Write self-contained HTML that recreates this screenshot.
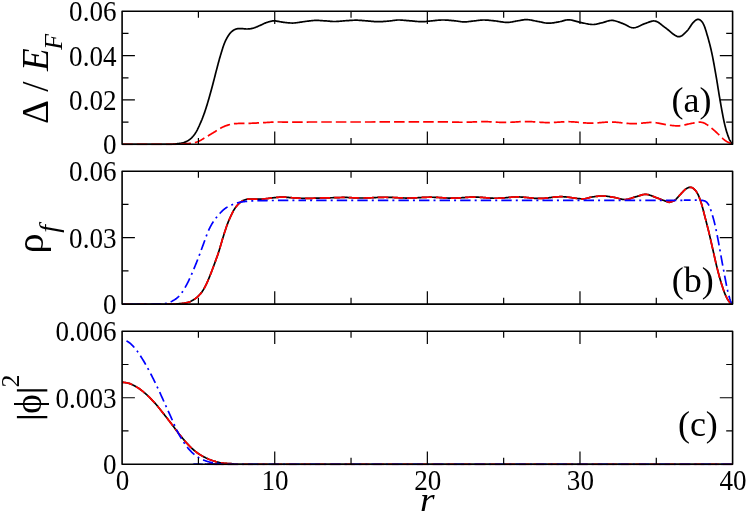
<!DOCTYPE html>
<html><head><meta charset="utf-8"><style>
html,body{margin:0;padding:0;background:#fff;}
svg{display:block;font-family:"Liberation Serif",serif;will-change:transform;transform:translateZ(0);}
</style></head><body>
<svg width="747" height="514" viewBox="0 0 747 514">
<rect width="747" height="514" fill="#fff"/>
<clipPath id="clipa"><rect x="121.1" y="10.25" width="612.5" height="135.05"/></clipPath>
<g clip-path="url(#clipa)" fill="none" stroke-width="1.7" stroke-linejoin="round">
<path d="M122.20 144.45 L124.12 144.45 L126.63 144.45 L129.64 144.45 L133.03 144.45 L136.68 144.46 L140.47 144.46 L144.31 144.46 L148.06 144.46 L151.62 144.46 L154.87 144.46 L157.70 144.45 L160.00 144.45 L161.82 144.45 L163.33 144.44 L164.57 144.44 L165.58 144.43 L166.40 144.43 L167.06 144.42 L167.60 144.41 L168.07 144.41 L168.51 144.39 L168.95 144.38 L169.43 144.37 L170.00 144.35 L170.58 144.33 L171.07 144.32 L171.50 144.30 L171.89 144.29 L172.23 144.27 L172.56 144.25 L172.88 144.23 L173.20 144.20 L173.56 144.16 L173.95 144.12 L174.39 144.06 L174.90 144.00 L175.48 143.93 L176.11 143.86 L176.78 143.79 L177.48 143.71 L178.20 143.63 L178.94 143.53 L179.69 143.43 L180.43 143.32 L181.16 143.19 L181.88 143.04 L182.56 142.88 L183.20 142.70 L183.81 142.51 L184.41 142.30 L184.99 142.09 L185.56 141.87 L186.11 141.63 L186.66 141.38 L187.19 141.11 L187.72 140.82 L188.25 140.50 L188.77 140.16 L189.28 139.80 L189.80 139.40 L190.31 138.98 L190.82 138.53 L191.33 138.06 L191.83 137.57 L192.32 137.05 L192.81 136.51 L193.29 135.95 L193.76 135.37 L194.23 134.76 L194.69 134.13 L195.15 133.48 L195.60 132.80 L196.04 132.09 L196.48 131.35 L196.90 130.58 L197.33 129.78 L197.74 128.95 L198.15 128.11 L198.55 127.26 L198.95 126.39 L199.35 125.52 L199.73 124.64 L200.12 123.77 L200.50 122.90 L200.87 122.04 L201.24 121.18 L201.60 120.32 L201.96 119.46 L202.30 118.59 L202.65 117.71 L202.99 116.82 L203.33 115.91 L203.67 114.99 L204.01 114.05 L204.36 113.09 L204.70 112.10 L205.05 111.09 L205.39 110.06 L205.73 109.01 L206.07 107.94 L206.42 106.86 L206.76 105.76 L207.10 104.64 L207.44 103.51 L207.78 102.38 L208.12 101.23 L208.46 100.07 L208.80 98.90 L209.14 97.72 L209.49 96.51 L209.83 95.28 L210.18 94.04 L210.53 92.79 L210.88 91.53 L211.22 90.26 L211.56 88.99 L211.90 87.73 L212.24 86.47 L212.57 85.23 L212.90 84.00 L213.22 82.78 L213.54 81.55 L213.86 80.33 L214.17 79.11 L214.48 77.89 L214.79 76.67 L215.09 75.47 L215.40 74.27 L215.70 73.08 L216.00 71.91 L216.30 70.75 L216.60 69.60 L216.90 68.47 L217.19 67.36 L217.47 66.27 L217.76 65.19 L218.04 64.11 L218.32 63.05 L218.61 61.99 L218.90 60.94 L219.19 59.88 L219.48 58.83 L219.79 57.77 L220.10 56.70 L220.42 55.62 L220.75 54.51 L221.08 53.39 L221.42 52.26 L221.77 51.13 L222.11 50.01 L222.46 48.90 L222.81 47.82 L223.16 46.77 L223.51 45.77 L223.86 44.81 L224.20 43.90 L224.54 43.04 L224.88 42.23 L225.22 41.44 L225.57 40.70 L225.91 39.98 L226.25 39.29 L226.59 38.64 L226.93 38.00 L227.28 37.40 L227.62 36.81 L227.96 36.25 L228.30 35.70 L228.64 35.18 L228.98 34.69 L229.31 34.22 L229.65 33.78 L229.98 33.37 L230.32 32.98 L230.66 32.60 L231.00 32.25 L231.34 31.92 L231.69 31.60 L232.04 31.29 L232.40 31.00 L232.77 30.72 L233.14 30.47 L233.51 30.23 L233.89 30.01 L234.28 29.80 L234.66 29.62 L235.05 29.45 L235.44 29.29 L235.83 29.15 L236.22 29.02 L236.61 28.91 L237.00 28.80 L237.38 28.71 L237.76 28.64 L238.14 28.60 L238.51 28.56 L238.89 28.54 L239.27 28.54 L239.65 28.54 L240.04 28.55 L240.44 28.56 L240.85 28.58 L241.27 28.59 L241.70 28.60 L242.15 28.62 L242.62 28.65 L243.09 28.69 L243.58 28.74 L244.08 28.79 L244.58 28.84 L245.09 28.90 L245.60 28.94 L246.10 28.98 L246.61 29.00 L247.11 29.01 L247.60 29.00 L248.09 28.97 L248.57 28.94 L249.06 28.90 L249.54 28.85 L250.02 28.79 L250.51 28.72 L250.99 28.64 L251.47 28.55 L251.95 28.45 L252.43 28.35 L252.92 28.23 L253.40 28.10 L253.88 27.96 L254.37 27.80 L254.85 27.63 L255.33 27.45 L255.81 27.26 L256.29 27.06 L256.78 26.86 L257.26 26.65 L257.74 26.44 L258.23 26.22 L258.71 26.01 L259.20 25.80 L259.69 25.59 L260.18 25.36 L260.67 25.13 L261.16 24.90 L261.66 24.66 L262.15 24.42 L262.64 24.18 L263.14 23.95 L263.63 23.72 L264.12 23.50 L264.61 23.29 L265.10 23.10 L265.59 22.91 L266.09 22.73 L266.60 22.55 L267.10 22.38 L267.61 22.22 L268.11 22.06 L268.61 21.91 L269.10 21.76 L269.57 21.63 L270.03 21.51 L270.48 21.40 L270.90 21.30 L271.28 21.21 L271.62 21.13 L271.92 21.06 L272.20 20.99 L272.46 20.94 L272.73 20.89 L273.00 20.86 L273.30 20.84 L273.64 20.83 L274.03 20.84 L274.48 20.86 L275.00 20.90 L275.60 20.96 L276.26 21.05 L276.98 21.16 L277.74 21.29 L278.55 21.44 L279.38 21.59 L280.22 21.74 L281.08 21.90 L281.93 22.04 L282.78 22.18 L283.60 22.30 L284.40 22.40 L285.17 22.49 L285.93 22.58 L286.69 22.66 L287.43 22.74 L288.18 22.82 L288.93 22.89 L289.69 22.94 L290.46 22.99 L291.24 23.02 L292.04 23.03 L292.86 23.03 L293.70 23.00 L294.57 22.95 L295.48 22.87 L296.41 22.76 L297.36 22.64 L298.32 22.50 L299.29 22.36 L300.26 22.20 L301.23 22.05 L302.20 21.90 L303.15 21.75 L304.09 21.62 L305.00 21.50 L305.89 21.39 L306.77 21.27 L307.65 21.16 L308.51 21.04 L309.36 20.93 L310.21 20.82 L311.06 20.72 L311.90 20.63 L312.75 20.55 L313.59 20.49 L314.44 20.43 L315.30 20.40 L316.16 20.39 L317.03 20.39 L317.90 20.41 L318.77 20.44 L319.64 20.49 L320.51 20.54 L321.37 20.60 L322.23 20.67 L323.09 20.73 L323.94 20.79 L324.77 20.85 L325.60 20.90 L326.41 20.95 L327.20 21.01 L327.97 21.08 L328.73 21.14 L329.49 21.21 L330.24 21.28 L331.00 21.34 L331.77 21.40 L332.54 21.45 L333.34 21.48 L334.16 21.50 L335.00 21.50 L335.87 21.48 L336.77 21.44 L337.69 21.39 L338.63 21.33 L339.58 21.25 L340.54 21.17 L341.51 21.08 L342.47 21.00 L343.42 20.91 L344.36 20.83 L345.29 20.76 L346.20 20.70 L347.09 20.64 L347.97 20.59 L348.84 20.53 L349.70 20.47 L350.56 20.41 L351.41 20.36 L352.25 20.31 L353.10 20.27 L353.95 20.23 L354.79 20.21 L355.64 20.20 L356.50 20.20 L357.36 20.22 L358.21 20.25 L359.05 20.29 L359.90 20.34 L360.75 20.40 L361.59 20.47 L362.44 20.54 L363.30 20.61 L364.16 20.69 L365.03 20.76 L365.91 20.83 L366.80 20.90 L367.70 20.97 L368.61 21.04 L369.53 21.13 L370.46 21.21 L371.40 21.30 L372.34 21.39 L373.28 21.47 L374.23 21.54 L375.17 21.60 L376.12 21.65 L377.06 21.69 L378.00 21.70 L378.95 21.70 L379.90 21.67 L380.87 21.64 L381.84 21.59 L382.81 21.53 L383.78 21.46 L384.74 21.39 L385.69 21.31 L386.63 21.23 L387.54 21.15 L388.44 21.07 L389.30 21.00 L390.13 20.92 L390.93 20.83 L391.70 20.73 L392.45 20.63 L393.19 20.52 L393.91 20.41 L394.63 20.31 L395.36 20.22 L396.09 20.14 L396.84 20.07 L397.61 20.02 L398.40 20.00 L399.21 20.00 L400.01 20.01 L400.82 20.05 L401.64 20.10 L402.46 20.16 L403.29 20.23 L404.14 20.30 L405.01 20.38 L405.89 20.46 L406.80 20.55 L407.74 20.63 L408.70 20.70 L409.71 20.78 L410.78 20.87 L411.89 20.97 L413.03 21.08 L414.19 21.19 L415.36 21.29 L416.53 21.40 L417.68 21.49 L418.81 21.57 L419.89 21.63 L420.93 21.68 L421.90 21.70 L422.81 21.70 L423.65 21.67 L424.45 21.63 L425.21 21.57 L425.95 21.50 L426.67 21.42 L427.38 21.33 L428.10 21.24 L428.83 21.15 L429.58 21.06 L430.37 20.98 L431.20 20.90 L432.07 20.82 L432.97 20.74 L433.89 20.64 L434.82 20.55 L435.77 20.45 L436.73 20.36 L437.70 20.27 L438.67 20.19 L439.64 20.11 L440.60 20.06 L441.56 20.02 L442.50 20.00 L443.44 20.00 L444.38 20.02 L445.33 20.05 L446.27 20.10 L447.22 20.15 L448.16 20.22 L449.10 20.29 L450.04 20.37 L450.97 20.45 L451.89 20.54 L452.80 20.62 L453.70 20.70 L454.59 20.79 L455.47 20.90 L456.34 21.02 L457.20 21.14 L458.06 21.28 L458.91 21.41 L459.75 21.53 L460.60 21.64 L461.45 21.74 L462.29 21.82 L463.14 21.88 L464.00 21.90 L464.86 21.89 L465.73 21.86 L466.60 21.80 L467.47 21.73 L468.34 21.63 L469.21 21.53 L470.07 21.42 L470.93 21.31 L471.79 21.19 L472.64 21.09 L473.47 20.99 L474.30 20.90 L475.11 20.82 L475.90 20.72 L476.67 20.63 L477.43 20.53 L478.18 20.43 L478.94 20.33 L479.69 20.24 L480.46 20.16 L481.24 20.10 L482.03 20.04 L482.85 20.01 L483.70 20.00 L484.57 20.01 L485.46 20.04 L486.37 20.08 L487.30 20.14 L488.23 20.22 L489.18 20.30 L490.14 20.39 L491.10 20.49 L492.07 20.59 L493.05 20.69 L494.02 20.80 L495.00 20.90 L495.99 21.01 L496.99 21.15 L498.01 21.30 L499.04 21.47 L500.07 21.63 L501.11 21.80 L502.14 21.96 L503.16 22.10 L504.18 22.22 L505.17 22.32 L506.15 22.38 L507.10 22.40 L508.03 22.38 L508.94 22.32 L509.84 22.23 L510.73 22.11 L511.60 21.98 L512.47 21.82 L513.32 21.66 L514.17 21.50 L515.01 21.33 L515.84 21.17 L516.67 21.03 L517.50 20.90 L518.31 20.77 L519.10 20.63 L519.88 20.49 L520.64 20.33 L521.40 20.18 L522.15 20.04 L522.91 19.90 L523.67 19.79 L524.45 19.70 L525.24 19.63 L526.06 19.60 L526.90 19.60 L527.77 19.65 L528.67 19.73 L529.59 19.85 L530.53 20.00 L531.48 20.17 L532.44 20.36 L533.41 20.56 L534.37 20.76 L535.32 20.96 L536.26 21.16 L537.19 21.34 L538.10 21.50 L538.99 21.66 L539.87 21.83 L540.74 22.01 L541.60 22.19 L542.46 22.37 L543.31 22.55 L544.15 22.71 L545.00 22.86 L545.85 22.99 L546.69 23.09 L547.54 23.16 L548.40 23.20 L549.26 23.20 L550.12 23.17 L550.98 23.10 L551.83 23.02 L552.69 22.91 L553.55 22.79 L554.41 22.65 L555.27 22.50 L556.13 22.35 L556.98 22.20 L557.84 22.05 L558.70 21.90 L559.56 21.74 L560.41 21.54 L561.25 21.32 L562.10 21.09 L562.94 20.84 L563.79 20.61 L564.64 20.38 L565.49 20.18 L566.35 20.01 L567.23 19.89 L568.11 19.81 L569.00 19.80 L569.90 19.85 L570.82 19.97 L571.73 20.13 L572.66 20.34 L573.59 20.58 L574.53 20.84 L575.48 21.11 L576.43 21.40 L577.39 21.68 L578.35 21.94 L579.32 22.19 L580.30 22.40 L581.29 22.60 L582.31 22.82 L583.35 23.05 L584.41 23.28 L585.47 23.50 L586.52 23.72 L587.58 23.92 L588.61 24.10 L589.63 24.25 L590.62 24.38 L591.58 24.46 L592.50 24.50 L593.37 24.49 L594.21 24.44 L595.01 24.36 L595.78 24.24 L596.53 24.10 L597.27 23.93 L598.00 23.75 L598.73 23.56 L599.47 23.36 L600.23 23.17 L601.00 22.98 L601.80 22.80 L602.62 22.61 L603.46 22.38 L604.30 22.12 L605.16 21.85 L606.02 21.58 L606.89 21.31 L607.76 21.05 L608.63 20.83 L609.50 20.64 L610.37 20.50 L611.24 20.41 L612.10 20.40 L612.96 20.46 L613.81 20.57 L614.66 20.74 L615.50 20.95 L616.35 21.20 L617.20 21.47 L618.05 21.78 L618.91 22.10 L619.77 22.42 L620.64 22.76 L621.51 23.08 L622.40 23.40 L623.29 23.75 L624.19 24.15 L625.10 24.61 L626.01 25.09 L626.93 25.58 L627.85 26.06 L628.78 26.52 L629.71 26.93 L630.65 27.29 L631.59 27.56 L632.54 27.74 L633.50 27.80 L634.47 27.73 L635.46 27.55 L636.47 27.27 L637.48 26.91 L638.50 26.48 L639.53 26.02 L640.54 25.53 L641.55 25.04 L642.55 24.56 L643.52 24.11 L644.48 23.72 L645.40 23.40 L646.30 23.11 L647.17 22.79 L648.02 22.47 L648.85 22.15 L649.67 21.85 L650.47 21.57 L651.28 21.33 L652.07 21.14 L652.87 21.01 L653.67 20.95 L654.48 20.98 L655.30 21.10 L656.12 21.33 L656.92 21.65 L657.71 22.05 L658.50 22.52 L659.28 23.06 L660.07 23.64 L660.88 24.27 L661.69 24.92 L662.53 25.59 L663.39 26.27 L664.28 26.94 L665.20 27.60 L666.17 28.31 L667.20 29.12 L668.28 30.00 L669.38 30.93 L670.51 31.88 L671.64 32.82 L672.76 33.72 L673.87 34.54 L674.95 35.28 L675.99 35.88 L676.98 36.33 L677.90 36.60 L678.76 36.69 L679.58 36.63 L680.36 36.44 L681.10 36.13 L681.82 35.73 L682.51 35.24 L683.18 34.70 L683.83 34.10 L684.48 33.48 L685.12 32.84 L685.76 32.21 L686.40 31.60 L687.04 30.96 L687.68 30.22 L688.30 29.43 L688.91 28.58 L689.52 27.71 L690.11 26.82 L690.69 25.94 L691.26 25.09 L691.82 24.28 L692.36 23.53 L692.89 22.86 L693.40 22.30 L693.89 21.81 L694.36 21.36 L694.82 20.95 L695.25 20.59 L695.67 20.27 L696.09 19.99 L696.49 19.77 L696.89 19.59 L697.29 19.46 L697.69 19.39 L698.09 19.37 L698.50 19.40 L698.91 19.49 L699.32 19.62 L699.74 19.80 L700.14 20.03 L700.55 20.32 L700.96 20.65 L701.36 21.04 L701.76 21.48 L702.15 21.97 L702.54 22.52 L702.92 23.13 L703.30 23.80 L703.67 24.53 L704.03 25.34 L704.39 26.21 L704.74 27.14 L705.09 28.13 L705.43 29.17 L705.77 30.25 L706.11 31.37 L706.46 32.52 L706.80 33.69 L707.15 34.89 L707.50 36.10 L707.86 37.33 L708.21 38.58 L708.57 39.87 L708.93 41.18 L709.29 42.53 L709.65 43.91 L710.01 45.32 L710.37 46.77 L710.73 48.27 L711.09 49.80 L711.44 51.38 L711.80 53.00 L712.15 54.67 L712.51 56.40 L712.86 58.18 L713.21 60.01 L713.56 61.87 L713.91 63.77 L714.26 65.70 L714.60 67.65 L714.95 69.62 L715.30 71.61 L715.65 73.60 L716.00 75.60 L716.35 77.63 L716.70 79.70 L717.05 81.82 L717.40 83.96 L717.74 86.13 L718.09 88.30 L718.44 90.47 L718.79 92.64 L719.14 94.78 L719.49 96.90 L719.85 98.97 L720.20 101.00 L720.56 103.01 L720.91 105.03 L721.27 107.05 L721.63 109.06 L721.99 111.05 L722.35 113.01 L722.71 114.93 L723.07 116.80 L723.43 118.61 L723.79 120.36 L724.14 122.02 L724.50 123.60 L724.85 125.10 L725.21 126.53 L725.56 127.89 L725.92 129.20 L726.27 130.45 L726.62 131.64 L726.98 132.78 L727.33 133.86 L727.67 134.89 L728.02 135.87 L728.36 136.81 L728.70 137.70 L729.05 138.54 L729.41 139.33 L729.79 140.06 L730.17 140.74 L730.54 141.38 L730.91 141.96 L731.27 142.49 L731.60 142.97 L731.91 143.41 L732.18 143.80 L732.41 144.15 L732.60 144.45" stroke="#000"/>
<path d="M122.20 144.45 L124.37 144.45 L127.24 144.45 L130.66 144.45 L134.51 144.45 L138.67 144.46 L142.98 144.46 L147.33 144.46 L151.59 144.46 L155.61 144.46 L159.28 144.46 L162.45 144.45 L165.00 144.45 L166.96 144.45 L168.50 144.45 L169.67 144.45 L170.55 144.46 L171.20 144.46 L171.69 144.46 L172.09 144.46 L172.45 144.45 L172.84 144.44 L173.34 144.42 L174.00 144.39 L174.90 144.35 L175.99 144.30 L177.17 144.25 L178.43 144.19 L179.74 144.13 L181.09 144.06 L182.45 143.99 L183.81 143.91 L185.14 143.82 L186.42 143.72 L187.64 143.62 L188.77 143.52 L189.80 143.40 L190.72 143.28 L191.57 143.17 L192.34 143.06 L193.06 142.94 L193.73 142.81 L194.37 142.68 L194.98 142.53 L195.59 142.37 L196.19 142.19 L196.80 141.98 L197.43 141.76 L198.10 141.50 L198.79 141.21 L199.47 140.89 L200.15 140.55 L200.84 140.18 L201.52 139.79 L202.20 139.39 L202.88 138.98 L203.56 138.56 L204.25 138.14 L204.93 137.72 L205.61 137.31 L206.30 136.90 L206.99 136.50 L207.68 136.09 L208.37 135.68 L209.06 135.26 L209.75 134.84 L210.44 134.42 L211.14 134.00 L211.83 133.57 L212.52 133.15 L213.22 132.73 L213.91 132.31 L214.60 131.90 L215.29 131.48 L215.98 131.05 L216.68 130.62 L217.37 130.18 L218.06 129.74 L218.76 129.31 L219.45 128.89 L220.14 128.47 L220.83 128.08 L221.52 127.69 L222.21 127.33 L222.90 127.00 L223.59 126.69 L224.29 126.39 L224.99 126.10 L225.70 125.83 L226.40 125.58 L227.11 125.34 L227.80 125.11 L228.49 124.90 L229.16 124.70 L229.83 124.52 L230.47 124.35 L231.10 124.20 L231.69 124.07 L232.22 123.96 L232.72 123.87 L233.20 123.79 L233.66 123.73 L234.12 123.69 L234.61 123.65 L235.11 123.62 L235.67 123.59 L236.27 123.56 L236.95 123.53 L237.70 123.50 L238.54 123.47 L239.44 123.44 L240.40 123.43 L241.40 123.41 L242.45 123.41 L243.54 123.40 L244.65 123.39 L245.77 123.39 L246.91 123.37 L248.05 123.36 L249.18 123.33 L250.30 123.30 L251.42 123.26 L252.57 123.21 L253.75 123.16 L254.93 123.10 L256.13 123.04 L257.33 122.97 L258.53 122.91 L259.72 122.84 L260.90 122.78 L262.06 122.72 L263.20 122.66 L264.30 122.60 L265.36 122.54 L266.38 122.48 L267.37 122.42 L268.33 122.36 L269.28 122.30 L270.22 122.24 L271.18 122.19 L272.15 122.14 L273.15 122.09 L274.18 122.05 L275.26 122.02 L276.40 122.00 L277.59 121.99 L278.82 121.99 L280.08 122.00 L281.37 122.02 L282.68 122.05 L284.02 122.08 L285.39 122.10 L286.77 122.13 L288.16 122.16 L289.57 122.18 L290.98 122.19 L292.40 122.20 L293.83 122.20 L295.28 122.19 L296.74 122.17 L298.23 122.16 L299.72 122.13 L301.23 122.11 L302.75 122.09 L304.29 122.07 L305.83 122.05 L307.38 122.03 L308.94 122.01 L310.50 122.00 L311.92 121.99 L313.08 121.99 L314.09 121.99 L315.03 121.99 L315.97 121.99 L317.01 121.99 L318.22 121.99 L319.71 122.00 L321.54 122.00 L323.81 122.00 L326.60 122.00 L330.00 122.00 L334.16 122.00 L339.09 122.00 L344.65 121.99 L350.70 121.99 L357.11 121.99 L363.72 121.98 L370.40 121.98 L377.02 121.97 L383.43 121.97 L389.48 121.96 L395.06 121.96 L400.00 121.95 L404.50 121.94 L408.81 121.93 L412.93 121.92 L416.85 121.91 L420.57 121.89 L424.06 121.88 L427.33 121.87 L430.37 121.85 L433.16 121.84 L435.71 121.83 L437.99 121.83 L440.00 121.82 L441.64 121.82 L442.86 121.81 L443.71 121.81 L444.26 121.81 L444.56 121.82 L444.69 121.82 L444.69 121.82 L444.63 121.83 L444.57 121.83 L444.57 121.84 L444.69 121.84 L445.00 121.85 L445.42 121.86 L445.83 121.86 L446.25 121.87 L446.67 121.88 L447.08 121.89 L447.50 121.90 L447.92 121.91 L448.33 121.92 L448.75 121.94 L449.17 121.95 L449.58 121.96 L450.00 121.97 L450.42 121.98 L450.83 121.99 L451.25 122.01 L451.67 122.02 L452.08 122.04 L452.50 122.05 L452.92 122.06 L453.33 122.08 L453.75 122.09 L454.17 122.11 L454.58 122.12 L455.00 122.13 L455.42 122.14 L455.83 122.15 L456.25 122.16 L456.67 122.17 L457.08 122.18 L457.50 122.19 L457.92 122.20 L458.33 122.21 L458.75 122.22 L459.17 122.23 L459.58 122.23 L460.00 122.24 L460.42 122.24 L460.83 122.25 L461.25 122.25 L461.67 122.25 L462.08 122.25 L462.50 122.26 L462.92 122.26 L463.33 122.25 L463.75 122.25 L464.17 122.25 L464.58 122.25 L465.00 122.24 L465.42 122.23 L465.83 122.23 L466.25 122.22 L466.67 122.21 L467.08 122.20 L467.50 122.18 L467.92 122.17 L468.33 122.16 L468.75 122.14 L469.17 122.13 L469.58 122.11 L470.00 122.10 L470.42 122.08 L470.83 122.07 L471.25 122.05 L471.67 122.03 L472.08 122.01 L472.50 121.99 L472.92 121.97 L473.33 121.95 L473.75 121.93 L474.17 121.92 L474.58 121.90 L475.00 121.88 L475.42 121.86 L475.83 121.84 L476.25 121.83 L476.67 121.81 L477.08 121.79 L477.50 121.77 L477.92 121.76 L478.33 121.74 L478.75 121.73 L479.17 121.71 L479.58 121.70 L480.00 121.69 L480.42 121.68 L480.83 121.67 L481.25 121.66 L481.67 121.66 L482.08 121.65 L482.50 121.65 L482.92 121.65 L483.33 121.64 L483.75 121.64 L484.17 121.64 L484.58 121.65 L485.00 121.65 L485.42 121.66 L485.83 121.66 L486.25 121.67 L486.67 121.68 L487.08 121.69 L487.50 121.71 L487.92 121.72 L488.33 121.73 L488.75 121.75 L489.17 121.77 L489.58 121.78 L490.00 121.80 L490.42 121.82 L490.83 121.84 L491.25 121.86 L491.67 121.88 L492.08 121.91 L492.50 121.93 L492.92 121.95 L493.33 121.98 L493.75 122.00 L494.17 122.02 L494.58 122.05 L495.00 122.07 L495.42 122.09 L495.83 122.11 L496.25 122.14 L496.67 122.16 L497.08 122.18 L497.50 122.21 L497.92 122.23 L498.33 122.25 L498.75 122.27 L499.17 122.29 L499.58 122.30 L500.00 122.32 L500.42 122.33 L500.83 122.35 L501.25 122.36 L501.67 122.37 L502.08 122.38 L502.50 122.39 L502.92 122.40 L503.33 122.40 L503.75 122.41 L504.17 122.41 L504.58 122.41 L505.00 122.41 L505.42 122.41 L505.83 122.40 L506.25 122.40 L506.67 122.39 L507.08 122.38 L507.50 122.37 L507.92 122.36 L508.33 122.35 L508.75 122.34 L509.17 122.32 L509.58 122.31 L510.00 122.29 L510.42 122.27 L510.83 122.25 L511.25 122.23 L511.67 122.21 L512.08 122.19 L512.50 122.16 L512.92 122.14 L513.33 122.11 L513.75 122.09 L514.17 122.06 L514.58 122.03 L515.00 122.01 L515.42 121.98 L515.83 121.96 L516.25 121.93 L516.67 121.90 L517.08 121.88 L517.50 121.85 L517.92 121.82 L518.33 121.79 L518.75 121.77 L519.17 121.74 L519.58 121.72 L520.00 121.70 L520.42 121.68 L520.83 121.66 L521.25 121.64 L521.67 121.63 L522.08 121.61 L522.50 121.60 L522.92 121.58 L523.33 121.57 L523.75 121.56 L524.17 121.55 L524.58 121.54 L525.00 121.54 L525.42 121.54 L525.83 121.54 L526.25 121.54 L526.67 121.54 L527.08 121.54 L527.50 121.55 L527.92 121.55 L528.33 121.56 L528.75 121.57 L529.17 121.58 L529.58 121.60 L530.00 121.61 L530.42 121.63 L530.83 121.64 L531.25 121.67 L531.67 121.69 L532.08 121.71 L532.50 121.74 L532.92 121.76 L533.33 121.79 L533.75 121.82 L534.17 121.85 L534.58 121.87 L535.00 121.90 L535.42 121.93 L535.83 121.96 L536.25 121.98 L536.67 122.01 L537.08 122.04 L537.50 122.08 L537.92 122.11 L538.33 122.14 L538.75 122.17 L539.17 122.19 L539.58 122.22 L540.00 122.25 L540.42 122.28 L540.83 122.30 L541.25 122.33 L541.67 122.36 L542.08 122.39 L542.50 122.41 L542.92 122.44 L543.33 122.46 L543.75 122.49 L544.17 122.51 L544.58 122.52 L545.00 122.54 L545.42 122.55 L545.83 122.56 L546.25 122.57 L546.67 122.58 L547.08 122.59 L547.50 122.59 L547.92 122.59 L548.33 122.59 L548.75 122.59 L549.17 122.59 L549.58 122.59 L550.00 122.58 L550.42 122.57 L550.83 122.56 L551.25 122.55 L551.67 122.53 L552.08 122.52 L552.50 122.50 L552.92 122.48 L553.33 122.46 L553.75 122.44 L554.17 122.42 L554.58 122.39 L555.00 122.37 L555.42 122.35 L555.83 122.32 L556.25 122.29 L556.67 122.26 L557.08 122.23 L557.50 122.20 L557.92 122.17 L558.33 122.14 L558.75 122.11 L559.17 122.08 L559.58 122.06 L560.00 122.03 L560.42 122.00 L560.83 121.98 L561.25 121.95 L561.67 121.93 L562.08 121.90 L562.50 121.88 L562.92 121.85 L563.33 121.83 L563.75 121.81 L564.17 121.79 L564.58 121.77 L565.00 121.76 L565.42 121.75 L565.83 121.74 L566.25 121.73 L566.67 121.72 L567.08 121.72 L567.50 121.72 L567.92 121.72 L568.33 121.72 L568.75 121.72 L569.17 121.72 L569.58 121.73 L570.00 121.74 L570.42 121.75 L570.83 121.77 L571.25 121.78 L571.67 121.80 L572.08 121.82 L572.50 121.84 L572.92 121.87 L573.33 121.90 L573.75 121.92 L574.17 121.95 L574.58 121.98 L575.00 122.01 L575.42 122.04 L575.83 122.08 L576.25 122.11 L576.67 122.15 L577.08 122.19 L577.50 122.23 L577.92 122.27 L578.33 122.31 L578.75 122.35 L579.17 122.39 L579.58 122.43 L580.00 122.47 L580.42 122.51 L580.83 122.55 L581.25 122.59 L581.67 122.63 L582.08 122.67 L582.50 122.71 L582.92 122.74 L583.33 122.78 L583.75 122.82 L584.17 122.85 L584.58 122.88 L585.00 122.91 L585.42 122.94 L585.83 122.96 L586.25 122.99 L586.67 123.01 L587.08 123.03 L587.50 123.05 L587.92 123.07 L588.33 123.08 L588.75 123.10 L589.17 123.11 L589.58 123.11 L590.00 123.12 L590.42 123.12 L590.83 123.12 L591.25 123.12 L591.67 123.12 L592.08 123.11 L592.50 123.10 L592.92 123.09 L593.33 123.08 L593.75 123.06 L594.17 123.05 L594.58 123.03 L595.00 123.01 L595.42 122.99 L595.83 122.97 L596.25 122.94 L596.67 122.91 L597.08 122.88 L597.50 122.85 L597.92 122.82 L598.33 122.78 L598.75 122.75 L599.17 122.72 L599.58 122.68 L600.00 122.65 L600.42 122.62 L600.83 122.58 L601.25 122.55 L601.67 122.51 L602.08 122.47 L602.50 122.44 L602.92 122.40 L603.33 122.36 L603.75 122.33 L604.17 122.30 L604.58 122.27 L605.00 122.24 L605.42 122.21 L605.83 122.19 L606.25 122.17 L606.67 122.15 L607.08 122.13 L607.50 122.11 L607.92 122.09 L608.33 122.07 L608.75 122.06 L609.17 122.05 L609.58 122.04 L610.00 122.04 L610.42 122.04 L610.83 122.04 L611.25 122.04 L611.67 122.05 L612.08 122.06 L612.50 122.07 L612.92 122.08 L613.33 122.09 L613.75 122.11 L614.17 122.13 L614.58 122.15 L615.00 122.17 L615.42 122.20 L615.83 122.22 L616.25 122.26 L616.67 122.29 L617.08 122.33 L617.50 122.36 L617.92 122.40 L618.33 122.44 L618.75 122.48 L619.17 122.53 L619.58 122.57 L620.00 122.61 L620.42 122.65 L620.83 122.70 L621.25 122.75 L621.67 122.79 L622.08 122.84 L622.50 122.89 L622.92 122.94 L623.33 122.99 L623.75 123.04 L624.17 123.08 L624.58 123.13 L625.00 123.17 L625.42 123.21 L625.83 123.25 L626.25 123.29 L626.67 123.33 L627.08 123.36 L627.50 123.40 L627.92 123.43 L628.33 123.47 L628.75 123.50 L629.17 123.52 L629.58 123.55 L630.00 123.57 L630.42 123.59 L630.83 123.61 L631.25 123.62 L631.67 123.63 L632.08 123.64 L632.50 123.65 L632.92 123.65 L633.33 123.66 L633.75 123.66 L634.17 123.65 L634.58 123.65 L635.00 123.64 L635.42 123.63 L635.83 123.61 L636.25 123.60 L636.67 123.57 L637.08 123.55 L637.50 123.53 L637.92 123.50 L638.33 123.47 L638.75 123.44 L639.17 123.41 L639.58 123.37 L640.00 123.34 L640.40 123.31 L640.79 123.27 L641.16 123.23 L641.52 123.19 L641.89 123.14 L642.26 123.10 L642.64 123.05 L643.04 123.01 L643.48 122.97 L643.94 122.93 L644.45 122.89 L645.00 122.85 L645.59 122.81 L646.20 122.75 L646.83 122.69 L647.49 122.62 L648.17 122.55 L648.88 122.49 L649.63 122.44 L650.40 122.40 L651.22 122.38 L652.07 122.39 L652.96 122.43 L653.90 122.50 L654.90 122.61 L655.98 122.77 L657.12 122.96 L658.32 123.19 L659.55 123.43 L660.80 123.68 L662.06 123.93 L663.31 124.19 L664.55 124.43 L665.75 124.65 L666.91 124.84 L668.00 125.00 L669.04 125.14 L670.05 125.27 L671.02 125.39 L671.97 125.50 L672.91 125.61 L673.82 125.69 L674.73 125.77 L675.64 125.82 L676.54 125.85 L677.45 125.86 L678.37 125.84 L679.30 125.80 L680.25 125.72 L681.20 125.60 L682.16 125.44 L683.12 125.26 L684.08 125.06 L685.04 124.84 L685.99 124.61 L686.94 124.39 L687.87 124.16 L688.80 123.96 L689.71 123.76 L690.60 123.60 L691.48 123.44 L692.36 123.27 L693.24 123.10 L694.11 122.92 L694.97 122.75 L695.82 122.59 L696.65 122.45 L697.47 122.33 L698.26 122.24 L699.03 122.18 L699.78 122.17 L700.50 122.20 L701.18 122.27 L701.82 122.38 L702.42 122.51 L702.99 122.67 L703.55 122.86 L704.09 123.08 L704.62 123.32 L705.16 123.60 L705.71 123.91 L706.28 124.24 L706.87 124.61 L707.50 125.00 L708.16 125.43 L708.83 125.91 L709.52 126.43 L710.22 126.99 L710.94 127.57 L711.66 128.18 L712.38 128.80 L713.11 129.44 L713.84 130.08 L714.57 130.73 L715.29 131.37 L716.00 132.00 L716.71 132.64 L717.42 133.32 L718.13 134.01 L718.85 134.72 L719.56 135.44 L720.27 136.16 L720.99 136.87 L721.70 137.56 L722.40 138.23 L723.11 138.86 L723.81 139.45 L724.50 140.00 L725.21 140.51 L725.97 141.00 L726.74 141.47 L727.53 141.91 L728.31 142.33 L729.08 142.72 L729.82 143.09 L730.51 143.43 L731.15 143.73 L731.72 144.01 L732.21 144.25 L732.60 144.45" stroke="#ff0000" stroke-dasharray="10.56 4"/>
</g>
<g stroke="#000" stroke-width="1.6" fill="none" stroke-linecap="butt">
<rect x="122.1" y="11.25" width="610.50" height="133.05" stroke-linejoin="round"/>
<path stroke-width="1.2" d="M198.41 144.3v-6.4M198.41 11.25v6.4M274.73 144.3v-12.8M274.73 11.25v12.8M351.04 144.3v-6.4M351.04 11.25v6.4M427.35 144.3v-12.8M427.35 11.25v12.8M503.66 144.3v-6.4M503.66 11.25v6.4M579.98 144.3v-12.8M579.98 11.25v12.8M656.29 144.3v-6.4M656.29 11.25v6.4M122.1 122.13h6.4M732.6 122.13h-6.4M122.1 99.95h12.8M732.6 99.95h-12.8M122.1 77.78h6.4M732.6 77.78h-6.4M122.1 55.60h12.8M732.6 55.60h-12.8M122.1 33.43h6.4M732.6 33.43h-6.4"/>
</g>
<clipPath id="clipb"><rect x="121.1" y="170.25" width="612.5" height="134.85000000000002"/></clipPath>
<g clip-path="url(#clipb)" fill="none" stroke-width="1.7" stroke-linejoin="round">
<path d="M122.20 304.25 L124.36 304.25 L127.18 304.26 L130.54 304.27 L134.33 304.27 L138.41 304.28 L142.66 304.29 L146.97 304.30 L151.21 304.30 L155.25 304.30 L158.98 304.29 L162.27 304.27 L165.00 304.25 L167.25 304.22 L169.20 304.18 L170.90 304.14 L172.36 304.09 L173.64 304.04 L174.75 303.98 L175.74 303.92 L176.64 303.86 L177.48 303.80 L178.30 303.73 L179.13 303.66 L180.00 303.60 L180.86 303.54 L181.62 303.48 L182.31 303.42 L182.93 303.36 L183.49 303.30 L184.00 303.24 L184.48 303.17 L184.94 303.10 L185.39 303.02 L185.84 302.92 L186.31 302.82 L186.80 302.70 L187.30 302.57 L187.78 302.44 L188.25 302.30 L188.70 302.16 L189.14 302.01 L189.58 301.84 L190.01 301.67 L190.44 301.49 L190.88 301.29 L191.31 301.07 L191.75 300.85 L192.20 300.60 L192.66 300.34 L193.12 300.06 L193.58 299.77 L194.05 299.46 L194.52 299.14 L194.99 298.81 L195.45 298.47 L195.91 298.11 L196.37 297.75 L196.82 297.38 L197.27 296.99 L197.70 296.60 L198.13 296.20 L198.55 295.79 L198.97 295.38 L199.38 294.95 L199.79 294.52 L200.19 294.07 L200.59 293.61 L200.98 293.14 L201.37 292.65 L201.75 292.15 L202.13 291.63 L202.50 291.10 L202.87 290.55 L203.23 289.99 L203.58 289.41 L203.92 288.82 L204.26 288.22 L204.60 287.60 L204.93 286.97 L205.27 286.32 L205.60 285.66 L205.93 284.99 L206.26 284.30 L206.60 283.60 L206.94 282.88 L207.27 282.15 L207.60 281.40 L207.94 280.63 L208.27 279.85 L208.60 279.06 L208.93 278.26 L209.26 277.44 L209.60 276.62 L209.93 275.79 L210.26 274.95 L210.60 274.10 L210.94 273.24 L211.28 272.37 L211.62 271.49 L211.96 270.60 L212.30 269.69 L212.64 268.78 L212.99 267.86 L213.33 266.94 L213.67 266.01 L214.02 265.07 L214.36 264.14 L214.70 263.20 L215.04 262.27 L215.38 261.34 L215.72 260.41 L216.06 259.48 L216.40 258.54 L216.74 257.60 L217.08 256.65 L217.43 255.68 L217.77 254.69 L218.11 253.69 L218.45 252.66 L218.80 251.60 L219.15 250.51 L219.50 249.37 L219.85 248.21 L220.20 247.02 L220.55 245.81 L220.91 244.59 L221.26 243.37 L221.61 242.16 L221.96 240.96 L222.31 239.77 L222.66 238.62 L223.00 237.50 L223.34 236.40 L223.69 235.30 L224.03 234.20 L224.37 233.11 L224.71 232.04 L225.05 230.98 L225.39 229.94 L225.72 228.93 L226.05 227.94 L226.37 226.99 L226.69 226.08 L227.00 225.20 L227.30 224.37 L227.60 223.58 L227.89 222.83 L228.18 222.11 L228.46 221.42 L228.74 220.76 L229.01 220.11 L229.29 219.48 L229.56 218.86 L229.84 218.24 L230.12 217.62 L230.40 217.00 L230.68 216.38 L230.97 215.76 L231.25 215.15 L231.53 214.56 L231.82 213.97 L232.10 213.39 L232.38 212.82 L232.67 212.27 L232.95 211.73 L233.23 211.20 L233.52 210.69 L233.80 210.20 L234.08 209.73 L234.36 209.27 L234.63 208.84 L234.91 208.41 L235.18 208.01 L235.46 207.61 L235.73 207.23 L236.01 206.85 L236.30 206.48 L236.59 206.12 L236.89 205.76 L237.20 205.40 L237.52 205.04 L237.84 204.69 L238.18 204.34 L238.51 203.99 L238.86 203.65 L239.21 203.32 L239.56 203.00 L239.91 202.69 L240.26 202.39 L240.61 202.11 L240.96 201.85 L241.30 201.60 L241.64 201.37 L241.98 201.16 L242.33 200.96 L242.67 200.78 L243.01 200.61 L243.35 200.46 L243.69 200.31 L244.03 200.17 L244.38 200.05 L244.72 199.93 L245.06 199.81 L245.40 199.70 L245.73 199.60 L246.05 199.50 L246.36 199.42 L246.67 199.34 L246.97 199.28 L247.28 199.22 L247.60 199.17 L247.93 199.12 L248.29 199.08 L248.66 199.05 L249.06 199.02 L249.50 199.00 L249.97 198.99 L250.48 198.99 L251.01 199.00 L251.57 199.01 L252.14 199.04 L252.73 199.07 L253.33 199.10 L253.93 199.13 L254.54 199.16 L255.14 199.18 L255.72 199.19 L256.30 199.20 L256.87 199.20 L257.43 199.20 L258.00 199.19 L258.56 199.19 L259.13 199.18 L259.69 199.16 L260.26 199.15 L260.83 199.13 L261.39 199.10 L261.96 199.07 L262.53 199.04 L263.10 199.00 L263.67 198.95 L264.25 198.90 L264.84 198.84 L265.43 198.77 L266.01 198.70 L266.60 198.63 L267.18 198.56 L267.76 198.48 L268.34 198.41 L268.90 198.33 L269.46 198.27 L270.00 198.20 L270.53 198.14 L271.04 198.07 L271.54 198.01 L272.02 197.95 L272.50 197.89 L272.98 197.82 L273.46 197.77 L273.94 197.71 L274.44 197.65 L274.94 197.60 L275.46 197.55 L276.00 197.50 L276.55 197.45 L277.09 197.40 L277.62 197.35 L278.17 197.30 L278.72 197.25 L279.28 197.21 L279.86 197.17 L280.47 197.13 L281.10 197.11 L281.76 197.09 L282.46 197.09 L283.20 197.10 L283.99 197.13 L284.81 197.17 L285.68 197.22 L286.58 197.29 L287.50 197.36 L288.45 197.44 L289.41 197.53 L290.39 197.61 L291.37 197.69 L292.35 197.77 L293.33 197.84 L294.30 197.90 L295.26 197.96 L296.22 198.01 L297.19 198.07 L298.16 198.12 L299.13 198.18 L300.11 198.23 L301.11 198.27 L302.11 198.31 L303.13 198.35 L304.17 198.37 L305.22 198.39 L306.30 198.40 L307.40 198.40 L308.53 198.38 L309.68 198.36 L310.85 198.33 L312.03 198.29 L313.22 198.25 L314.43 198.21 L315.63 198.16 L316.83 198.11 L318.03 198.07 L319.22 198.03 L320.40 198.00 L321.58 197.97 L322.78 197.94 L323.99 197.92 L325.20 197.89 L326.41 197.87 L327.62 197.84 L328.81 197.82 L329.99 197.80 L331.14 197.77 L332.26 197.75 L333.35 197.72 L334.40 197.70 L335.42 197.67 L336.42 197.64 L337.40 197.61 L338.36 197.58 L339.29 197.55 L340.20 197.52 L341.08 197.49 L341.93 197.46 L342.75 197.44 L343.54 197.42 L344.29 197.41 L345.00 197.41 L345.66 197.41 L346.27 197.43 L346.82 197.44 L347.34 197.47 L347.83 197.49 L348.29 197.52 L348.73 197.55 L349.17 197.58 L349.61 197.62 L350.05 197.65 L350.51 197.68 L351.00 197.70 L351.50 197.72 L352.00 197.75 L352.50 197.77 L353.00 197.79 L353.50 197.82 L354.00 197.84 L354.50 197.86 L355.00 197.88 L355.50 197.90 L356.00 197.92 L356.50 197.94 L357.00 197.95 L357.50 197.96 L358.00 197.97 L358.50 197.99 L359.00 198.00 L359.50 198.00 L360.00 198.01 L360.50 198.02 L361.00 198.02 L361.50 198.02 L362.00 198.02 L362.50 198.02 L363.00 198.02 L363.50 198.02 L364.00 198.01 L364.50 198.00 L365.00 197.99 L365.50 197.98 L366.00 197.96 L366.50 197.95 L367.00 197.93 L367.50 197.91 L368.00 197.90 L368.50 197.88 L369.00 197.86 L369.50 197.84 L370.00 197.82 L370.50 197.80 L371.00 197.77 L371.50 197.75 L372.00 197.73 L372.50 197.70 L373.00 197.68 L373.50 197.65 L374.00 197.63 L374.50 197.60 L375.00 197.58 L375.50 197.56 L376.00 197.53 L376.50 197.51 L377.00 197.49 L377.50 197.46 L378.00 197.44 L378.50 197.42 L379.00 197.40 L379.50 197.38 L380.00 197.36 L380.50 197.34 L381.00 197.33 L381.50 197.32 L382.00 197.31 L382.50 197.30 L383.00 197.29 L383.50 197.28 L384.00 197.28 L384.50 197.27 L385.00 197.27 L385.50 197.27 L386.00 197.27 L386.50 197.28 L387.00 197.28 L387.50 197.29 L388.00 197.30 L388.50 197.31 L389.00 197.32 L389.50 197.34 L390.00 197.35 L390.50 197.37 L391.00 197.39 L391.50 197.41 L392.00 197.43 L392.50 197.45 L393.00 197.47 L393.50 197.49 L394.00 197.52 L394.50 197.54 L395.00 197.57 L395.50 197.59 L396.00 197.62 L396.50 197.65 L397.00 197.68 L397.50 197.70 L398.00 197.73 L398.50 197.76 L399.00 197.78 L399.50 197.80 L400.00 197.83 L400.50 197.85 L401.00 197.87 L401.50 197.90 L402.00 197.92 L402.50 197.94 L403.00 197.96 L403.50 197.98 L404.00 198.00 L404.50 198.01 L405.00 198.02 L405.50 198.03 L406.00 198.04 L406.50 198.04 L407.00 198.04 L407.50 198.05 L408.00 198.05 L408.50 198.04 L409.00 198.04 L409.50 198.04 L410.00 198.03 L410.50 198.02 L411.00 198.01 L411.50 198.00 L412.00 197.98 L412.50 197.97 L413.00 197.95 L413.50 197.93 L414.00 197.91 L414.50 197.88 L415.00 197.86 L415.50 197.83 L416.00 197.81 L416.50 197.78 L417.00 197.76 L417.50 197.73 L418.00 197.71 L418.50 197.68 L419.00 197.65 L419.50 197.62 L420.00 197.59 L420.50 197.56 L421.00 197.53 L421.50 197.50 L422.00 197.47 L422.50 197.44 L423.00 197.42 L423.50 197.40 L424.00 197.38 L424.50 197.35 L425.00 197.33 L425.50 197.31 L426.00 197.29 L426.50 197.28 L427.00 197.26 L427.50 197.25 L428.00 197.23 L428.50 197.23 L429.00 197.22 L429.50 197.22 L430.00 197.22 L430.50 197.22 L431.00 197.22 L431.50 197.22 L432.00 197.23 L432.50 197.24 L433.00 197.25 L433.50 197.26 L434.00 197.28 L434.50 197.29 L435.00 197.31 L435.50 197.33 L436.00 197.35 L436.50 197.37 L437.00 197.40 L437.50 197.43 L438.00 197.46 L438.50 197.49 L439.00 197.52 L439.50 197.55 L440.00 197.58 L440.50 197.61 L441.00 197.64 L441.50 197.67 L442.00 197.70 L442.50 197.73 L443.00 197.77 L443.50 197.80 L444.00 197.83 L444.50 197.86 L445.00 197.90 L445.50 197.93 L446.00 197.95 L446.50 197.98 L447.00 198.00 L447.50 198.02 L448.00 198.04 L448.50 198.06 L449.00 198.07 L449.50 198.09 L450.00 198.10 L450.50 198.11 L451.00 198.12 L451.50 198.13 L452.00 198.13 L452.50 198.13 L453.00 198.13 L453.50 198.13 L454.00 198.12 L454.50 198.11 L455.00 198.09 L455.50 198.08 L456.00 198.06 L456.50 198.04 L457.00 198.02 L457.50 198.00 L458.00 197.97 L458.50 197.95 L459.00 197.92 L459.50 197.89 L460.00 197.86 L460.50 197.83 L461.00 197.79 L461.50 197.76 L462.00 197.72 L462.50 197.68 L463.00 197.64 L463.50 197.60 L464.00 197.57 L464.50 197.53 L465.00 197.50 L465.50 197.47 L466.00 197.43 L466.50 197.40 L467.00 197.37 L467.50 197.34 L468.00 197.30 L468.50 197.27 L469.00 197.25 L469.50 197.22 L470.00 197.20 L470.50 197.18 L471.00 197.16 L471.50 197.15 L472.00 197.14 L472.50 197.13 L473.00 197.12 L473.50 197.11 L474.00 197.11 L474.50 197.11 L475.00 197.11 L475.50 197.12 L476.00 197.13 L476.50 197.14 L477.00 197.15 L477.50 197.17 L478.00 197.19 L478.50 197.21 L479.00 197.23 L479.50 197.26 L480.00 197.29 L480.50 197.33 L481.00 197.36 L481.50 197.39 L482.00 197.43 L482.50 197.46 L483.00 197.50 L483.50 197.54 L484.00 197.58 L484.50 197.62 L485.00 197.66 L485.50 197.70 L486.00 197.75 L486.50 197.79 L487.00 197.84 L487.50 197.88 L488.00 197.92 L488.50 197.96 L489.00 197.99 L489.50 198.02 L490.00 198.05 L490.50 198.09 L491.00 198.12 L491.50 198.14 L492.00 198.17 L492.50 198.20 L493.00 198.22 L493.50 198.24 L494.00 198.25 L494.50 198.26 L495.00 198.27 L495.50 198.27 L496.00 198.27 L496.50 198.27 L497.00 198.26 L497.50 198.25 L498.00 198.24 L498.50 198.22 L499.00 198.21 L499.50 198.18 L500.00 198.16 L500.50 198.14 L501.00 198.11 L501.50 198.08 L502.00 198.05 L502.50 198.01 L503.00 197.97 L503.50 197.92 L504.00 197.88 L504.50 197.83 L505.00 197.78 L505.50 197.74 L506.00 197.69 L506.50 197.64 L507.00 197.60 L507.50 197.56 L508.00 197.51 L508.50 197.46 L509.00 197.42 L509.50 197.37 L510.00 197.32 L510.50 197.28 L511.00 197.23 L511.50 197.19 L512.00 197.15 L512.50 197.12 L513.00 197.09 L513.50 197.06 L514.00 197.04 L514.50 197.02 L515.00 197.00 L515.50 196.98 L516.00 196.97 L516.50 196.95 L517.00 196.95 L517.50 196.94 L518.00 196.94 L518.50 196.94 L519.00 196.95 L519.50 196.96 L520.00 196.98 L520.50 197.00 L521.00 197.03 L521.50 197.05 L522.00 197.09 L522.50 197.12 L523.00 197.16 L523.50 197.20 L524.00 197.24 L524.50 197.28 L525.00 197.32 L525.50 197.36 L526.00 197.41 L526.50 197.47 L527.00 197.52 L527.50 197.58 L528.00 197.63 L528.50 197.69 L529.00 197.75 L529.50 197.81 L530.00 197.86 L530.50 197.91 L531.00 197.96 L531.50 198.01 L532.00 198.05 L532.50 198.10 L533.00 198.15 L533.50 198.20 L534.00 198.24 L534.50 198.28 L535.00 198.32 L535.50 198.35 L536.00 198.38 L536.50 198.41 L537.00 198.43 L537.50 198.44 L538.00 198.46 L538.50 198.46 L539.00 198.47 L539.50 198.47 L540.00 198.46 L540.50 198.45 L541.00 198.44 L541.50 198.43 L542.00 198.41 L542.50 198.39 L543.00 198.36 L543.50 198.33 L544.00 198.29 L544.50 198.25 L545.00 198.20 L545.50 198.15 L546.00 198.10 L546.50 198.04 L547.00 197.98 L547.50 197.92 L548.00 197.86 L548.50 197.81 L549.00 197.75 L549.50 197.69 L550.00 197.63 L550.50 197.57 L551.00 197.50 L551.50 197.43 L552.00 197.37 L552.50 197.30 L553.00 197.24 L553.50 197.18 L554.00 197.12 L554.50 197.07 L555.00 197.02 L555.50 196.98 L556.00 196.93 L556.50 196.89 L557.00 196.85 L557.50 196.82 L558.00 196.79 L558.50 196.76 L559.00 196.73 L559.50 196.71 L560.00 196.70 L560.50 196.69 L561.00 196.69 L561.50 196.69 L562.00 196.70 L562.50 196.72 L563.00 196.74 L563.50 196.77 L564.00 196.80 L564.50 196.83 L565.00 196.87 L565.50 196.91 L566.00 196.95 L566.50 197.00 L567.00 197.05 L567.50 197.10 L568.00 197.16 L568.50 197.23 L569.00 197.30 L569.50 197.37 L570.00 197.44 L570.50 197.52 L571.00 197.59 L571.50 197.67 L572.00 197.74 L572.50 197.81 L573.00 197.88 L573.50 197.95 L574.00 198.02 L574.50 198.09 L575.00 198.16 L575.50 198.23 L576.00 198.30 L576.50 198.36 L577.00 198.43 L577.50 198.48 L578.00 198.54 L578.50 198.58 L579.00 198.62 L579.50 198.66 L579.99 198.69 L580.47 198.73 L580.96 198.76 L581.44 198.79 L581.93 198.81 L582.42 198.83 L582.92 198.83 L583.42 198.82 L583.94 198.80 L584.46 198.76 L585.00 198.70 L585.54 198.62 L586.07 198.51 L586.60 198.38 L587.14 198.24 L587.68 198.08 L588.23 197.92 L588.80 197.75 L589.40 197.58 L590.02 197.42 L590.67 197.26 L591.36 197.12 L592.10 197.00 L592.89 196.88 L593.72 196.77 L594.60 196.64 L595.51 196.53 L596.45 196.41 L597.41 196.31 L598.38 196.21 L599.36 196.13 L600.34 196.06 L601.31 196.02 L602.27 196.00 L603.20 196.00 L604.12 196.03 L605.04 196.09 L605.95 196.16 L606.87 196.26 L607.79 196.38 L608.70 196.51 L609.61 196.65 L610.53 196.79 L611.45 196.94 L612.36 197.10 L613.28 197.25 L614.20 197.40 L615.12 197.57 L616.05 197.77 L616.97 197.99 L617.90 198.23 L618.82 198.48 L619.75 198.72 L620.68 198.94 L621.60 199.14 L622.53 199.31 L623.45 199.43 L624.38 199.50 L625.30 199.50 L626.22 199.43 L627.15 199.30 L628.08 199.11 L629.01 198.88 L629.94 198.61 L630.87 198.32 L631.79 198.01 L632.71 197.70 L633.62 197.39 L634.53 197.10 L635.42 196.83 L636.30 196.60 L637.16 196.37 L638.01 196.12 L638.84 195.86 L639.67 195.60 L640.48 195.33 L641.29 195.09 L642.11 194.86 L642.92 194.67 L643.75 194.52 L644.58 194.42 L645.43 194.37 L646.30 194.40 L647.19 194.50 L648.10 194.67 L649.02 194.91 L649.95 195.19 L650.89 195.52 L651.83 195.88 L652.78 196.25 L653.72 196.64 L654.66 197.03 L655.58 197.41 L656.50 197.77 L657.40 198.10 L658.31 198.42 L659.26 198.77 L660.22 199.13 L661.19 199.49 L662.15 199.86 L663.10 200.22 L664.02 200.57 L664.89 200.90 L665.71 201.20 L666.46 201.47 L667.12 201.71 L667.70 201.90 L668.16 202.05 L668.52 202.17 L668.78 202.25 L668.97 202.31 L669.10 202.34 L669.19 202.36 L669.27 202.35 L669.34 202.32 L669.44 202.28 L669.56 202.23 L669.75 202.17 L670.00 202.10 L670.31 202.02 L670.66 201.94 L671.03 201.84 L671.42 201.73 L671.83 201.60 L672.25 201.46 L672.68 201.30 L673.11 201.13 L673.55 200.93 L673.98 200.71 L674.40 200.47 L674.80 200.20 L675.19 199.90 L675.59 199.57 L675.98 199.21 L676.37 198.83 L676.76 198.42 L677.15 198.00 L677.54 197.57 L677.93 197.13 L678.32 196.69 L678.71 196.25 L679.11 195.82 L679.50 195.40 L679.90 194.98 L680.31 194.54 L680.73 194.08 L681.14 193.62 L681.56 193.16 L681.98 192.70 L682.39 192.25 L682.80 191.81 L683.20 191.39 L683.58 191.00 L683.95 190.63 L684.30 190.30 L684.63 190.00 L684.96 189.72 L685.26 189.47 L685.56 189.23 L685.85 189.02 L686.13 188.82 L686.40 188.64 L686.67 188.47 L686.93 188.31 L687.19 188.16 L687.45 188.03 L687.70 187.90 L687.95 187.78 L688.19 187.68 L688.42 187.59 L688.65 187.51 L688.87 187.44 L689.09 187.39 L689.30 187.35 L689.52 187.31 L689.73 187.30 L689.95 187.29 L690.17 187.29 L690.40 187.30 L690.63 187.32 L690.85 187.34 L691.08 187.37 L691.30 187.41 L691.53 187.47 L691.76 187.53 L691.99 187.61 L692.22 187.71 L692.46 187.82 L692.70 187.96 L692.95 188.12 L693.20 188.30 L693.46 188.51 L693.74 188.74 L694.02 188.99 L694.31 189.27 L694.61 189.56 L694.91 189.87 L695.20 190.19 L695.50 190.53 L695.79 190.89 L696.07 191.25 L696.34 191.62 L696.60 192.00 L696.85 192.39 L697.09 192.78 L697.32 193.19 L697.55 193.60 L697.77 194.03 L697.99 194.48 L698.21 194.93 L698.43 195.41 L698.64 195.90 L698.86 196.41 L699.08 196.94 L699.30 197.50 L699.52 198.08 L699.75 198.67 L699.97 199.29 L700.20 199.93 L700.42 200.58 L700.65 201.25 L700.88 201.94 L701.10 202.64 L701.32 203.36 L701.55 204.09 L701.77 204.84 L702.00 205.60 L702.22 206.38 L702.45 207.18 L702.67 208.01 L702.90 208.85 L703.12 209.71 L703.34 210.58 L703.57 211.46 L703.79 212.35 L704.02 213.24 L704.24 214.13 L704.47 215.02 L704.70 215.90 L704.93 216.79 L705.17 217.70 L705.41 218.63 L705.66 219.56 L705.90 220.50 L706.14 221.43 L706.38 222.36 L706.62 223.27 L706.85 224.17 L707.08 225.04 L707.29 225.89 L707.50 226.70 L707.69 227.45 L707.86 228.14 L708.02 228.78 L708.17 229.38 L708.32 229.97 L708.46 230.55 L708.61 231.15 L708.76 231.77 L708.92 232.45 L709.09 233.18 L709.29 233.99 L709.50 234.90 L709.73 235.89 L709.98 236.94 L710.23 238.05 L710.50 239.21 L710.78 240.42 L711.06 241.67 L711.36 242.95 L711.66 244.26 L711.96 245.60 L712.27 246.95 L712.58 248.32 L712.90 249.70 L713.22 251.11 L713.55 252.58 L713.89 254.09 L714.24 255.64 L714.59 257.22 L714.94 258.81 L715.30 260.40 L715.66 261.98 L716.02 263.54 L716.38 265.07 L716.74 266.56 L717.10 268.00 L717.46 269.40 L717.81 270.79 L718.17 272.16 L718.53 273.51 L718.89 274.84 L719.25 276.15 L719.61 277.44 L719.97 278.70 L720.33 279.94 L720.69 281.16 L721.04 282.34 L721.40 283.50 L721.75 284.63 L722.11 285.75 L722.46 286.84 L722.81 287.91 L723.16 288.96 L723.51 289.98 L723.86 290.96 L724.20 291.92 L724.55 292.85 L724.90 293.74 L725.25 294.59 L725.60 295.40 L725.95 296.18 L726.32 296.92 L726.68 297.64 L727.05 298.32 L727.42 298.97 L727.79 299.58 L728.15 300.16 L728.50 300.71 L728.85 301.21 L729.18 301.68 L729.50 302.11 L729.80 302.50 L730.09 302.84 L730.38 303.12 L730.66 303.35 L730.94 303.54 L731.21 303.70 L731.46 303.82 L731.70 303.92 L731.93 303.99 L732.13 304.06 L732.31 304.12 L732.47 304.18 L732.60 304.25" stroke="#000"/>
<path d="M122.20 304.25 L124.36 304.25 L127.18 304.26 L130.54 304.27 L134.33 304.27 L138.41 304.28 L142.66 304.29 L146.97 304.30 L151.21 304.30 L155.25 304.30 L158.98 304.29 L162.27 304.27 L165.00 304.25 L167.25 304.22 L169.20 304.18 L170.90 304.14 L172.36 304.09 L173.64 304.04 L174.75 303.98 L175.74 303.92 L176.64 303.86 L177.48 303.80 L178.30 303.73 L179.13 303.66 L180.00 303.60 L180.86 303.54 L181.62 303.48 L182.31 303.42 L182.93 303.36 L183.49 303.30 L184.00 303.24 L184.48 303.17 L184.94 303.10 L185.39 303.02 L185.84 302.92 L186.31 302.82 L186.80 302.70 L187.30 302.57 L187.78 302.44 L188.25 302.30 L188.70 302.16 L189.14 302.01 L189.58 301.84 L190.01 301.67 L190.44 301.49 L190.88 301.29 L191.31 301.07 L191.75 300.85 L192.20 300.60 L192.66 300.34 L193.12 300.06 L193.58 299.77 L194.05 299.46 L194.52 299.14 L194.99 298.81 L195.45 298.47 L195.91 298.11 L196.37 297.75 L196.82 297.38 L197.27 296.99 L197.70 296.60 L198.13 296.20 L198.55 295.79 L198.97 295.38 L199.38 294.95 L199.79 294.52 L200.19 294.07 L200.59 293.61 L200.98 293.14 L201.37 292.65 L201.75 292.15 L202.13 291.63 L202.50 291.10 L202.87 290.55 L203.23 289.99 L203.58 289.41 L203.92 288.82 L204.26 288.22 L204.60 287.60 L204.93 286.97 L205.27 286.32 L205.60 285.66 L205.93 284.99 L206.26 284.30 L206.60 283.60 L206.94 282.88 L207.27 282.15 L207.60 281.40 L207.94 280.63 L208.27 279.85 L208.60 279.06 L208.93 278.26 L209.26 277.44 L209.60 276.62 L209.93 275.79 L210.26 274.95 L210.60 274.10 L210.94 273.24 L211.28 272.37 L211.62 271.49 L211.96 270.60 L212.30 269.69 L212.64 268.78 L212.99 267.86 L213.33 266.94 L213.67 266.01 L214.02 265.07 L214.36 264.14 L214.70 263.20 L215.04 262.27 L215.38 261.34 L215.72 260.41 L216.06 259.48 L216.40 258.54 L216.74 257.60 L217.08 256.65 L217.43 255.68 L217.77 254.69 L218.11 253.69 L218.45 252.66 L218.80 251.60 L219.15 250.51 L219.50 249.37 L219.85 248.21 L220.20 247.02 L220.55 245.81 L220.91 244.59 L221.26 243.37 L221.61 242.16 L221.96 240.96 L222.31 239.77 L222.66 238.62 L223.00 237.50 L223.34 236.40 L223.69 235.30 L224.03 234.20 L224.37 233.11 L224.71 232.04 L225.05 230.98 L225.39 229.94 L225.72 228.93 L226.05 227.94 L226.37 226.99 L226.69 226.08 L227.00 225.20 L227.30 224.37 L227.60 223.58 L227.89 222.83 L228.18 222.11 L228.46 221.42 L228.74 220.76 L229.01 220.11 L229.29 219.48 L229.56 218.86 L229.84 218.24 L230.12 217.62 L230.40 217.00 L230.68 216.38 L230.97 215.76 L231.25 215.15 L231.53 214.56 L231.82 213.97 L232.10 213.39 L232.38 212.82 L232.67 212.27 L232.95 211.73 L233.23 211.20 L233.52 210.69 L233.80 210.20 L234.08 209.73 L234.36 209.27 L234.63 208.84 L234.91 208.41 L235.18 208.01 L235.46 207.61 L235.73 207.23 L236.01 206.85 L236.30 206.48 L236.59 206.12 L236.89 205.76 L237.20 205.40 L237.52 205.04 L237.84 204.69 L238.18 204.34 L238.51 203.99 L238.86 203.65 L239.21 203.32 L239.56 203.00 L239.91 202.69 L240.26 202.39 L240.61 202.11 L240.96 201.85 L241.30 201.60 L241.64 201.37 L241.98 201.16 L242.33 200.96 L242.67 200.78 L243.01 200.61 L243.35 200.46 L243.69 200.31 L244.03 200.17 L244.38 200.05 L244.72 199.93 L245.06 199.81 L245.40 199.70 L245.73 199.60 L246.05 199.50 L246.36 199.42 L246.67 199.34 L246.97 199.28 L247.28 199.22 L247.60 199.17 L247.93 199.12 L248.29 199.08 L248.66 199.05 L249.06 199.02 L249.50 199.00 L249.97 198.99 L250.48 198.99 L251.01 199.00 L251.57 199.01 L252.14 199.04 L252.73 199.07 L253.33 199.10 L253.93 199.13 L254.54 199.16 L255.14 199.18 L255.72 199.19 L256.30 199.20 L256.87 199.20 L257.43 199.20 L258.00 199.19 L258.56 199.19 L259.13 199.18 L259.69 199.16 L260.26 199.15 L260.83 199.13 L261.39 199.10 L261.96 199.07 L262.53 199.04 L263.10 199.00 L263.67 198.95 L264.25 198.90 L264.84 198.84 L265.43 198.77 L266.01 198.70 L266.60 198.63 L267.18 198.56 L267.76 198.48 L268.34 198.41 L268.90 198.33 L269.46 198.27 L270.00 198.20 L270.53 198.14 L271.04 198.07 L271.54 198.01 L272.02 197.95 L272.50 197.89 L272.98 197.82 L273.46 197.77 L273.94 197.71 L274.44 197.65 L274.94 197.60 L275.46 197.55 L276.00 197.50 L276.55 197.45 L277.09 197.40 L277.62 197.35 L278.17 197.30 L278.72 197.25 L279.28 197.21 L279.86 197.17 L280.47 197.13 L281.10 197.11 L281.76 197.09 L282.46 197.09 L283.20 197.10 L283.99 197.13 L284.81 197.17 L285.68 197.22 L286.58 197.29 L287.50 197.36 L288.45 197.44 L289.41 197.53 L290.39 197.61 L291.37 197.69 L292.35 197.77 L293.33 197.84 L294.30 197.90 L295.26 197.96 L296.22 198.01 L297.19 198.07 L298.16 198.12 L299.13 198.18 L300.11 198.23 L301.11 198.27 L302.11 198.31 L303.13 198.35 L304.17 198.37 L305.22 198.39 L306.30 198.40 L307.40 198.40 L308.53 198.38 L309.68 198.36 L310.85 198.33 L312.03 198.29 L313.22 198.25 L314.43 198.21 L315.63 198.16 L316.83 198.11 L318.03 198.07 L319.22 198.03 L320.40 198.00 L321.58 197.97 L322.78 197.94 L323.99 197.92 L325.20 197.89 L326.41 197.87 L327.62 197.84 L328.81 197.82 L329.99 197.80 L331.14 197.77 L332.26 197.75 L333.35 197.72 L334.40 197.70 L335.42 197.67 L336.42 197.64 L337.40 197.61 L338.36 197.58 L339.29 197.55 L340.20 197.52 L341.08 197.49 L341.93 197.46 L342.75 197.44 L343.54 197.42 L344.29 197.41 L345.00 197.41 L345.66 197.41 L346.27 197.43 L346.82 197.44 L347.34 197.47 L347.83 197.49 L348.29 197.52 L348.73 197.55 L349.17 197.58 L349.61 197.62 L350.05 197.65 L350.51 197.68 L351.00 197.70 L351.50 197.72 L352.00 197.75 L352.50 197.77 L353.00 197.79 L353.50 197.82 L354.00 197.84 L354.50 197.86 L355.00 197.88 L355.50 197.90 L356.00 197.92 L356.50 197.94 L357.00 197.95 L357.50 197.96 L358.00 197.97 L358.50 197.99 L359.00 198.00 L359.50 198.00 L360.00 198.01 L360.50 198.02 L361.00 198.02 L361.50 198.02 L362.00 198.02 L362.50 198.02 L363.00 198.02 L363.50 198.02 L364.00 198.01 L364.50 198.00 L365.00 197.99 L365.50 197.98 L366.00 197.96 L366.50 197.95 L367.00 197.93 L367.50 197.91 L368.00 197.90 L368.50 197.88 L369.00 197.86 L369.50 197.84 L370.00 197.82 L370.50 197.80 L371.00 197.77 L371.50 197.75 L372.00 197.73 L372.50 197.70 L373.00 197.68 L373.50 197.65 L374.00 197.63 L374.50 197.60 L375.00 197.58 L375.50 197.56 L376.00 197.53 L376.50 197.51 L377.00 197.49 L377.50 197.46 L378.00 197.44 L378.50 197.42 L379.00 197.40 L379.50 197.38 L380.00 197.36 L380.50 197.34 L381.00 197.33 L381.50 197.32 L382.00 197.31 L382.50 197.30 L383.00 197.29 L383.50 197.28 L384.00 197.28 L384.50 197.27 L385.00 197.27 L385.50 197.27 L386.00 197.27 L386.50 197.28 L387.00 197.28 L387.50 197.29 L388.00 197.30 L388.50 197.31 L389.00 197.32 L389.50 197.34 L390.00 197.35 L390.50 197.37 L391.00 197.39 L391.50 197.41 L392.00 197.43 L392.50 197.45 L393.00 197.47 L393.50 197.49 L394.00 197.52 L394.50 197.54 L395.00 197.57 L395.50 197.59 L396.00 197.62 L396.50 197.65 L397.00 197.68 L397.50 197.70 L398.00 197.73 L398.50 197.76 L399.00 197.78 L399.50 197.80 L400.00 197.83 L400.50 197.85 L401.00 197.87 L401.50 197.90 L402.00 197.92 L402.50 197.94 L403.00 197.96 L403.50 197.98 L404.00 198.00 L404.50 198.01 L405.00 198.02 L405.50 198.03 L406.00 198.04 L406.50 198.04 L407.00 198.04 L407.50 198.05 L408.00 198.05 L408.50 198.04 L409.00 198.04 L409.50 198.04 L410.00 198.03 L410.50 198.02 L411.00 198.01 L411.50 198.00 L412.00 197.98 L412.50 197.97 L413.00 197.95 L413.50 197.93 L414.00 197.91 L414.50 197.88 L415.00 197.86 L415.50 197.83 L416.00 197.81 L416.50 197.78 L417.00 197.76 L417.50 197.73 L418.00 197.71 L418.50 197.68 L419.00 197.65 L419.50 197.62 L420.00 197.59 L420.50 197.56 L421.00 197.53 L421.50 197.50 L422.00 197.47 L422.50 197.44 L423.00 197.42 L423.50 197.40 L424.00 197.38 L424.50 197.35 L425.00 197.33 L425.50 197.31 L426.00 197.29 L426.50 197.28 L427.00 197.26 L427.50 197.25 L428.00 197.23 L428.50 197.23 L429.00 197.22 L429.50 197.22 L430.00 197.22 L430.50 197.22 L431.00 197.22 L431.50 197.22 L432.00 197.23 L432.50 197.24 L433.00 197.25 L433.50 197.26 L434.00 197.28 L434.50 197.29 L435.00 197.31 L435.50 197.33 L436.00 197.35 L436.50 197.37 L437.00 197.40 L437.50 197.43 L438.00 197.46 L438.50 197.49 L439.00 197.52 L439.50 197.55 L440.00 197.58 L440.50 197.61 L441.00 197.64 L441.50 197.67 L442.00 197.70 L442.50 197.73 L443.00 197.77 L443.50 197.80 L444.00 197.83 L444.50 197.86 L445.00 197.90 L445.50 197.93 L446.00 197.95 L446.50 197.98 L447.00 198.00 L447.50 198.02 L448.00 198.04 L448.50 198.06 L449.00 198.07 L449.50 198.09 L450.00 198.10 L450.50 198.11 L451.00 198.12 L451.50 198.13 L452.00 198.13 L452.50 198.13 L453.00 198.13 L453.50 198.13 L454.00 198.12 L454.50 198.11 L455.00 198.09 L455.50 198.08 L456.00 198.06 L456.50 198.04 L457.00 198.02 L457.50 198.00 L458.00 197.97 L458.50 197.95 L459.00 197.92 L459.50 197.89 L460.00 197.86 L460.50 197.83 L461.00 197.79 L461.50 197.76 L462.00 197.72 L462.50 197.68 L463.00 197.64 L463.50 197.60 L464.00 197.57 L464.50 197.53 L465.00 197.50 L465.50 197.47 L466.00 197.43 L466.50 197.40 L467.00 197.37 L467.50 197.34 L468.00 197.30 L468.50 197.27 L469.00 197.25 L469.50 197.22 L470.00 197.20 L470.50 197.18 L471.00 197.16 L471.50 197.15 L472.00 197.14 L472.50 197.13 L473.00 197.12 L473.50 197.11 L474.00 197.11 L474.50 197.11 L475.00 197.11 L475.50 197.12 L476.00 197.13 L476.50 197.14 L477.00 197.15 L477.50 197.17 L478.00 197.19 L478.50 197.21 L479.00 197.23 L479.50 197.26 L480.00 197.29 L480.50 197.33 L481.00 197.36 L481.50 197.39 L482.00 197.43 L482.50 197.46 L483.00 197.50 L483.50 197.54 L484.00 197.58 L484.50 197.62 L485.00 197.66 L485.50 197.70 L486.00 197.75 L486.50 197.79 L487.00 197.84 L487.50 197.88 L488.00 197.92 L488.50 197.96 L489.00 197.99 L489.50 198.02 L490.00 198.05 L490.50 198.09 L491.00 198.12 L491.50 198.14 L492.00 198.17 L492.50 198.20 L493.00 198.22 L493.50 198.24 L494.00 198.25 L494.50 198.26 L495.00 198.27 L495.50 198.27 L496.00 198.27 L496.50 198.27 L497.00 198.26 L497.50 198.25 L498.00 198.24 L498.50 198.22 L499.00 198.21 L499.50 198.18 L500.00 198.16 L500.50 198.14 L501.00 198.11 L501.50 198.08 L502.00 198.05 L502.50 198.01 L503.00 197.97 L503.50 197.92 L504.00 197.88 L504.50 197.83 L505.00 197.78 L505.50 197.74 L506.00 197.69 L506.50 197.64 L507.00 197.60 L507.50 197.56 L508.00 197.51 L508.50 197.46 L509.00 197.42 L509.50 197.37 L510.00 197.32 L510.50 197.28 L511.00 197.23 L511.50 197.19 L512.00 197.15 L512.50 197.12 L513.00 197.09 L513.50 197.06 L514.00 197.04 L514.50 197.02 L515.00 197.00 L515.50 196.98 L516.00 196.97 L516.50 196.95 L517.00 196.95 L517.50 196.94 L518.00 196.94 L518.50 196.94 L519.00 196.95 L519.50 196.96 L520.00 196.98 L520.50 197.00 L521.00 197.03 L521.50 197.05 L522.00 197.09 L522.50 197.12 L523.00 197.16 L523.50 197.20 L524.00 197.24 L524.50 197.28 L525.00 197.32 L525.50 197.36 L526.00 197.41 L526.50 197.47 L527.00 197.52 L527.50 197.58 L528.00 197.63 L528.50 197.69 L529.00 197.75 L529.50 197.81 L530.00 197.86 L530.50 197.91 L531.00 197.96 L531.50 198.01 L532.00 198.05 L532.50 198.10 L533.00 198.15 L533.50 198.20 L534.00 198.24 L534.50 198.28 L535.00 198.32 L535.50 198.35 L536.00 198.38 L536.50 198.41 L537.00 198.43 L537.50 198.44 L538.00 198.46 L538.50 198.46 L539.00 198.47 L539.50 198.47 L540.00 198.46 L540.50 198.45 L541.00 198.44 L541.50 198.43 L542.00 198.41 L542.50 198.39 L543.00 198.36 L543.50 198.33 L544.00 198.29 L544.50 198.25 L545.00 198.20 L545.50 198.15 L546.00 198.10 L546.50 198.04 L547.00 197.98 L547.50 197.92 L548.00 197.86 L548.50 197.81 L549.00 197.75 L549.50 197.69 L550.00 197.63 L550.50 197.57 L551.00 197.50 L551.50 197.43 L552.00 197.37 L552.50 197.30 L553.00 197.24 L553.50 197.18 L554.00 197.12 L554.50 197.07 L555.00 197.02 L555.50 196.98 L556.00 196.93 L556.50 196.89 L557.00 196.85 L557.50 196.82 L558.00 196.79 L558.50 196.76 L559.00 196.73 L559.50 196.71 L560.00 196.70 L560.50 196.69 L561.00 196.69 L561.50 196.69 L562.00 196.70 L562.50 196.72 L563.00 196.74 L563.50 196.77 L564.00 196.80 L564.50 196.83 L565.00 196.87 L565.50 196.91 L566.00 196.95 L566.50 197.00 L567.00 197.05 L567.50 197.10 L568.00 197.16 L568.50 197.23 L569.00 197.30 L569.50 197.37 L570.00 197.44 L570.50 197.52 L571.00 197.59 L571.50 197.67 L572.00 197.74 L572.50 197.81 L573.00 197.88 L573.50 197.95 L574.00 198.02 L574.50 198.09 L575.00 198.16 L575.50 198.23 L576.00 198.30 L576.50 198.36 L577.00 198.43 L577.50 198.48 L578.00 198.54 L578.50 198.58 L579.00 198.62 L579.50 198.66 L579.99 198.69 L580.47 198.73 L580.96 198.76 L581.44 198.79 L581.93 198.81 L582.42 198.83 L582.92 198.83 L583.42 198.82 L583.94 198.80 L584.46 198.76 L585.00 198.70 L585.54 198.62 L586.07 198.51 L586.60 198.38 L587.14 198.24 L587.68 198.08 L588.23 197.92 L588.80 197.75 L589.40 197.58 L590.02 197.42 L590.67 197.26 L591.36 197.12 L592.10 197.00 L592.89 196.88 L593.72 196.77 L594.60 196.64 L595.51 196.53 L596.45 196.41 L597.41 196.31 L598.38 196.21 L599.36 196.13 L600.34 196.06 L601.31 196.02 L602.27 196.00 L603.20 196.00 L604.12 196.03 L605.04 196.09 L605.95 196.16 L606.87 196.26 L607.79 196.38 L608.70 196.51 L609.61 196.65 L610.53 196.79 L611.45 196.94 L612.36 197.10 L613.28 197.25 L614.20 197.40 L615.12 197.57 L616.05 197.77 L616.97 197.99 L617.90 198.23 L618.82 198.48 L619.75 198.72 L620.68 198.94 L621.60 199.14 L622.53 199.31 L623.45 199.43 L624.38 199.50 L625.30 199.50 L626.22 199.43 L627.15 199.30 L628.08 199.11 L629.01 198.88 L629.94 198.61 L630.87 198.32 L631.79 198.01 L632.71 197.70 L633.62 197.39 L634.53 197.10 L635.42 196.83 L636.30 196.60 L637.16 196.37 L638.01 196.12 L638.84 195.86 L639.67 195.60 L640.48 195.33 L641.29 195.09 L642.11 194.86 L642.92 194.67 L643.75 194.52 L644.58 194.42 L645.43 194.37 L646.30 194.40 L647.19 194.50 L648.10 194.67 L649.02 194.91 L649.95 195.19 L650.89 195.52 L651.83 195.88 L652.78 196.25 L653.72 196.64 L654.66 197.03 L655.58 197.41 L656.50 197.77 L657.40 198.10 L658.31 198.42 L659.26 198.77 L660.22 199.13 L661.19 199.49 L662.15 199.86 L663.10 200.22 L664.02 200.57 L664.89 200.90 L665.71 201.20 L666.46 201.47 L667.12 201.71 L667.70 201.90 L668.16 202.05 L668.52 202.17 L668.78 202.25 L668.97 202.31 L669.10 202.34 L669.19 202.36 L669.27 202.35 L669.34 202.32 L669.44 202.28 L669.56 202.23 L669.75 202.17 L670.00 202.10 L670.31 202.02 L670.66 201.94 L671.03 201.84 L671.42 201.73 L671.83 201.60 L672.25 201.46 L672.68 201.30 L673.11 201.13 L673.55 200.93 L673.98 200.71 L674.40 200.47 L674.80 200.20 L675.19 199.90 L675.59 199.57 L675.98 199.21 L676.37 198.83 L676.76 198.42 L677.15 198.00 L677.54 197.57 L677.93 197.13 L678.32 196.69 L678.71 196.25 L679.11 195.82 L679.50 195.40 L679.90 194.98 L680.31 194.54 L680.73 194.08 L681.14 193.62 L681.56 193.16 L681.98 192.70 L682.39 192.25 L682.80 191.81 L683.20 191.39 L683.58 191.00 L683.95 190.63 L684.30 190.30 L684.63 190.00 L684.96 189.72 L685.26 189.47 L685.56 189.23 L685.85 189.02 L686.13 188.82 L686.40 188.64 L686.67 188.47 L686.93 188.31 L687.19 188.16 L687.45 188.03 L687.70 187.90 L687.95 187.78 L688.19 187.68 L688.42 187.59 L688.65 187.51 L688.87 187.44 L689.09 187.39 L689.30 187.35 L689.52 187.31 L689.73 187.30 L689.95 187.29 L690.17 187.29 L690.40 187.30 L690.63 187.32 L690.85 187.34 L691.08 187.37 L691.30 187.41 L691.53 187.47 L691.76 187.53 L691.99 187.61 L692.22 187.71 L692.46 187.82 L692.70 187.96 L692.95 188.12 L693.20 188.30 L693.46 188.51 L693.74 188.74 L694.02 188.99 L694.31 189.27 L694.61 189.56 L694.91 189.87 L695.20 190.19 L695.50 190.53 L695.79 190.89 L696.07 191.25 L696.34 191.62 L696.60 192.00 L696.85 192.39 L697.09 192.78 L697.32 193.19 L697.55 193.60 L697.77 194.03 L697.99 194.48 L698.21 194.93 L698.43 195.41 L698.64 195.90 L698.86 196.41 L699.08 196.94 L699.30 197.50 L699.52 198.08 L699.75 198.67 L699.97 199.29 L700.20 199.93 L700.42 200.58 L700.65 201.25 L700.88 201.94 L701.10 202.64 L701.32 203.36 L701.55 204.09 L701.77 204.84 L702.00 205.60 L702.22 206.38 L702.45 207.18 L702.67 208.01 L702.90 208.85 L703.12 209.71 L703.34 210.58 L703.57 211.46 L703.79 212.35 L704.02 213.24 L704.24 214.13 L704.47 215.02 L704.70 215.90 L704.93 216.79 L705.17 217.70 L705.41 218.63 L705.66 219.56 L705.90 220.50 L706.14 221.43 L706.38 222.36 L706.62 223.27 L706.85 224.17 L707.08 225.04 L707.29 225.89 L707.50 226.70 L707.69 227.45 L707.86 228.14 L708.02 228.78 L708.17 229.38 L708.32 229.97 L708.46 230.55 L708.61 231.15 L708.76 231.77 L708.92 232.45 L709.09 233.18 L709.29 233.99 L709.50 234.90 L709.73 235.89 L709.98 236.94 L710.23 238.05 L710.50 239.21 L710.78 240.42 L711.06 241.67 L711.36 242.95 L711.66 244.26 L711.96 245.60 L712.27 246.95 L712.58 248.32 L712.90 249.70 L713.22 251.11 L713.55 252.58 L713.89 254.09 L714.24 255.64 L714.59 257.22 L714.94 258.81 L715.30 260.40 L715.66 261.98 L716.02 263.54 L716.38 265.07 L716.74 266.56 L717.10 268.00 L717.46 269.40 L717.81 270.79 L718.17 272.16 L718.53 273.51 L718.89 274.84 L719.25 276.15 L719.61 277.44 L719.97 278.70 L720.33 279.94 L720.69 281.16 L721.04 282.34 L721.40 283.50 L721.75 284.63 L722.11 285.75 L722.46 286.84 L722.81 287.91 L723.16 288.96 L723.51 289.98 L723.86 290.96 L724.20 291.92 L724.55 292.85 L724.90 293.74 L725.25 294.59 L725.60 295.40 L725.95 296.18 L726.32 296.92 L726.68 297.64 L727.05 298.32 L727.42 298.97 L727.79 299.58 L728.15 300.16 L728.50 300.71 L728.85 301.21 L729.18 301.68 L729.50 302.11 L729.80 302.50 L730.09 302.84 L730.38 303.12 L730.66 303.35 L730.94 303.54 L731.21 303.70 L731.46 303.82 L731.70 303.92 L731.93 303.99 L732.13 304.06 L732.31 304.12 L732.47 304.18 L732.60 304.25" stroke="#ff0000" stroke-dasharray="10.56 4"/>
<path d="M122.20 304.25 L123.59 304.25 L125.40 304.26 L127.56 304.26 L129.98 304.27 L132.60 304.27 L135.33 304.28 L138.11 304.28 L140.85 304.28 L143.49 304.28 L145.94 304.28 L148.14 304.27 L150.00 304.25 L151.59 304.23 L153.03 304.21 L154.33 304.18 L155.50 304.15 L156.57 304.11 L157.55 304.08 L158.45 304.04 L159.29 303.99 L160.07 303.95 L160.83 303.90 L161.57 303.85 L162.30 303.80 L162.99 303.75 L163.60 303.71 L164.13 303.66 L164.61 303.62 L165.03 303.57 L165.43 303.52 L165.79 303.46 L166.15 303.40 L166.50 303.32 L166.87 303.23 L167.27 303.12 L167.70 303.00 L168.16 302.86 L168.62 302.70 L169.09 302.54 L169.56 302.36 L170.03 302.16 L170.49 301.96 L170.96 301.75 L171.42 301.53 L171.88 301.31 L172.33 301.08 L172.77 300.84 L173.20 300.60 L173.62 300.36 L174.04 300.11 L174.45 299.85 L174.85 299.59 L175.25 299.32 L175.64 299.04 L176.02 298.76 L176.41 298.47 L176.79 298.16 L177.16 297.85 L177.53 297.53 L177.90 297.20 L178.26 296.86 L178.62 296.52 L178.97 296.17 L179.31 295.81 L179.65 295.44 L179.99 295.06 L180.32 294.67 L180.66 294.27 L180.99 293.85 L181.32 293.42 L181.66 292.97 L182.00 292.50 L182.34 292.01 L182.68 291.50 L183.03 290.98 L183.37 290.44 L183.71 289.89 L184.05 289.32 L184.39 288.74 L184.73 288.15 L185.07 287.55 L185.42 286.94 L185.76 286.32 L186.10 285.70 L186.44 285.07 L186.78 284.43 L187.12 283.78 L187.47 283.12 L187.81 282.45 L188.15 281.77 L188.49 281.09 L188.83 280.39 L189.17 279.68 L189.52 278.96 L189.86 278.24 L190.20 277.50 L190.54 276.75 L190.88 275.99 L191.22 275.21 L191.57 274.43 L191.91 273.63 L192.25 272.82 L192.59 272.01 L192.93 271.20 L193.28 270.37 L193.62 269.55 L193.96 268.73 L194.30 267.90 L194.64 267.08 L194.97 266.28 L195.30 265.48 L195.63 264.69 L195.95 263.89 L196.28 263.08 L196.61 262.26 L196.95 261.41 L197.30 260.54 L197.65 259.63 L198.02 258.69 L198.40 257.70 L198.80 256.65 L199.21 255.55 L199.64 254.39 L200.09 253.20 L200.53 251.97 L200.99 250.74 L201.44 249.50 L201.89 248.26 L202.34 247.04 L202.77 245.85 L203.19 244.70 L203.60 243.60 L203.99 242.53 L204.37 241.48 L204.74 240.44 L205.11 239.42 L205.47 238.42 L205.82 237.43 L206.17 236.47 L206.51 235.52 L206.86 234.60 L207.21 233.71 L207.55 232.84 L207.90 232.00 L208.25 231.19 L208.59 230.42 L208.92 229.68 L209.26 228.96 L209.59 228.27 L209.92 227.60 L210.25 226.95 L210.59 226.30 L210.93 225.67 L211.28 225.05 L211.63 224.42 L212.00 223.80 L212.37 223.18 L212.75 222.58 L213.13 221.99 L213.52 221.40 L213.91 220.83 L214.31 220.27 L214.71 219.71 L215.12 219.16 L215.53 218.62 L215.95 218.08 L216.37 217.54 L216.80 217.00 L217.23 216.46 L217.68 215.92 L218.13 215.38 L218.59 214.84 L219.05 214.31 L219.51 213.78 L219.98 213.26 L220.45 212.76 L220.92 212.27 L221.38 211.79 L221.84 211.34 L222.30 210.90 L222.75 210.48 L223.19 210.09 L223.62 209.71 L224.06 209.34 L224.49 208.99 L224.92 208.66 L225.36 208.33 L225.80 208.01 L226.25 207.70 L226.72 207.40 L227.20 207.10 L227.70 206.80 L228.22 206.51 L228.75 206.22 L229.30 205.94 L229.86 205.67 L230.43 205.41 L231.01 205.16 L231.60 204.91 L232.18 204.67 L232.77 204.44 L233.35 204.22 L233.93 204.00 L234.50 203.80 L235.06 203.61 L235.62 203.42 L236.17 203.24 L236.71 203.08 L237.26 202.92 L237.81 202.77 L238.37 202.63 L238.93 202.49 L239.50 202.36 L240.09 202.23 L240.68 202.11 L241.30 202.00 L241.93 201.89 L242.57 201.79 L243.22 201.70 L243.88 201.61 L244.55 201.54 L245.23 201.46 L245.91 201.39 L246.61 201.33 L247.32 201.27 L248.04 201.21 L248.76 201.15 L249.50 201.10 L250.25 201.05 L251.00 201.00 L251.77 200.96 L252.55 200.92 L253.33 200.89 L254.13 200.86 L254.94 200.83 L255.75 200.80 L256.58 200.77 L257.41 200.75 L258.25 200.72 L259.10 200.70 L259.90 200.68 L260.62 200.65 L261.29 200.63 L261.93 200.61 L262.58 200.60 L263.28 200.58 L264.04 200.57 L264.90 200.55 L265.90 200.54 L267.06 200.53 L268.42 200.51 L270.00 200.50 L271.86 200.49 L274.01 200.48 L276.39 200.47 L278.96 200.46 L281.65 200.45 L284.43 200.44 L287.24 200.43 L290.03 200.42 L292.76 200.42 L295.36 200.41 L297.79 200.40 L300.00 200.40 L301.51 200.40 L302.06 200.39 L301.95 200.39 L301.48 200.39 L300.94 200.39 L300.62 200.39 L300.83 200.39 L301.85 200.40 L303.98 200.40 L307.52 200.40 L312.76 200.40 L320.00 200.40 L329.43 200.40 L340.86 200.40 L353.98 200.40 L368.52 200.40 L384.16 200.41 L400.62 200.41 L417.61 200.41 L434.81 200.41 L451.95 200.41 L468.73 200.41 L484.84 200.40 L500.00 200.40 L515.01 200.40 L530.71 200.39 L546.84 200.38 L563.15 200.37 L579.39 200.37 L595.31 200.36 L610.66 200.35 L625.19 200.34 L638.63 200.33 L650.75 200.32 L661.29 200.31 L670.00 200.30 L676.69 200.29 L681.53 200.28 L684.78 200.28 L686.69 200.27 L687.52 200.26 L687.53 200.25 L686.99 200.24 L686.15 200.23 L685.27 200.22 L684.61 200.22 L684.44 200.21 L685.00 200.20 L685.99 200.19 L686.93 200.18 L687.83 200.17 L688.67 200.16 L689.48 200.14 L690.26 200.13 L691.01 200.12 L691.74 200.11 L692.44 200.10 L693.14 200.10 L693.82 200.10 L694.50 200.10 L695.17 200.10 L695.82 200.11 L696.45 200.11 L697.07 200.11 L697.66 200.12 L698.24 200.13 L698.79 200.14 L699.33 200.16 L699.85 200.19 L700.35 200.22 L700.84 200.25 L701.30 200.30 L701.74 200.35 L702.16 200.40 L702.55 200.45 L702.92 200.51 L703.27 200.57 L703.61 200.64 L703.93 200.72 L704.24 200.81 L704.54 200.91 L704.83 201.03 L705.12 201.15 L705.40 201.30 L705.68 201.46 L705.94 201.63 L706.19 201.82 L706.43 202.01 L706.65 202.22 L706.88 202.44 L707.09 202.67 L707.30 202.91 L707.50 203.17 L707.70 203.43 L707.90 203.71 L708.10 204.00 L708.30 204.30 L708.49 204.62 L708.67 204.94 L708.85 205.28 L709.02 205.63 L709.19 205.99 L709.36 206.36 L709.53 206.74 L709.70 207.14 L709.86 207.55 L710.03 207.97 L710.20 208.40 L710.37 208.84 L710.54 209.30 L710.70 209.77 L710.87 210.26 L711.04 210.75 L711.20 211.26 L711.36 211.77 L711.53 212.30 L711.70 212.84 L711.86 213.38 L712.03 213.94 L712.20 214.50 L712.37 215.07 L712.55 215.65 L712.72 216.25 L712.90 216.85 L713.07 217.46 L713.25 218.08 L713.43 218.71 L713.60 219.35 L713.78 220.00 L713.95 220.66 L714.13 221.33 L714.30 222.00 L714.47 222.69 L714.64 223.40 L714.82 224.12 L714.99 224.86 L715.16 225.60 L715.33 226.36 L715.50 227.11 L715.67 227.86 L715.83 228.61 L715.99 229.35 L716.15 230.08 L716.30 230.80 L716.45 231.51 L716.59 232.22 L716.74 232.93 L716.88 233.64 L717.02 234.35 L717.15 235.05 L717.28 235.74 L717.41 236.42 L717.54 237.09 L717.66 237.74 L717.78 238.38 L717.90 239.00 L718.01 239.57 L718.10 240.06 L718.19 240.51 L718.27 240.93 L718.35 241.33 L718.43 241.74 L718.51 242.17 L718.60 242.65 L718.70 243.20 L718.81 243.82 L718.95 244.55 L719.10 245.40 L719.28 246.38 L719.47 247.47 L719.69 248.66 L719.91 249.92 L720.15 251.25 L720.39 252.63 L720.65 254.04 L720.90 255.47 L721.16 256.89 L721.41 258.30 L721.66 259.67 L721.90 261.00 L722.14 262.30 L722.38 263.61 L722.62 264.91 L722.86 266.23 L723.11 267.54 L723.35 268.84 L723.59 270.15 L723.84 271.44 L724.08 272.73 L724.32 274.00 L724.56 275.26 L724.80 276.50 L725.04 277.74 L725.27 278.98 L725.51 280.22 L725.74 281.46 L725.97 282.69 L726.21 283.90 L726.44 285.09 L726.67 286.26 L726.90 287.40 L727.13 288.51 L727.37 289.58 L727.60 290.60 L727.84 291.59 L728.07 292.56 L728.31 293.51 L728.56 294.44 L728.80 295.33 L729.04 296.20 L729.28 297.02 L729.51 297.81 L729.74 298.56 L729.97 299.25 L730.19 299.90 L730.40 300.50 L730.61 301.04 L730.83 301.52 L731.04 301.96 L731.26 302.34 L731.47 302.69 L731.67 302.99 L731.87 303.26 L732.05 303.51 L732.22 303.72 L732.37 303.91 L732.50 304.09 L732.60 304.25" stroke="#0000ff" stroke-dasharray="10.4 4.085 2 4.085" stroke-dashoffset="-7.6"/>
</g>
<g stroke="#000" stroke-width="1.6" fill="none" stroke-linecap="butt">
<rect x="122.1" y="171.25" width="610.50" height="132.85" stroke-linejoin="round"/>
<path stroke-width="1.2" d="M198.41 304.1v-6.4M198.41 171.25v6.4M274.73 304.1v-12.8M274.73 171.25v12.8M351.04 304.1v-6.4M351.04 171.25v6.4M427.35 304.1v-12.8M427.35 171.25v12.8M503.66 304.1v-6.4M503.66 171.25v6.4M579.98 304.1v-12.8M579.98 171.25v12.8M656.29 304.1v-6.4M656.29 171.25v6.4M122.1 270.89h6.4M732.6 270.89h-6.4M122.1 237.68h12.8M732.6 237.68h-12.8M122.1 204.46h6.4M732.6 204.46h-6.4"/>
</g>
<clipPath id="clipc"><rect x="121.1" y="330.25" width="612.5" height="134.95"/></clipPath>
<g clip-path="url(#clipc)" fill="none" stroke-width="1.7" stroke-linejoin="round">
<path d="M122.20 382.30 L122.53 382.34 L122.93 382.38 L123.40 382.43 L123.93 382.47 L124.50 382.52 L125.12 382.59 L125.76 382.67 L126.43 382.76 L127.10 382.88 L127.78 383.02 L128.45 383.20 L129.10 383.40 L129.75 383.63 L130.43 383.89 L131.11 384.18 L131.82 384.49 L132.53 384.81 L133.26 385.16 L133.98 385.53 L134.71 385.91 L135.44 386.32 L136.17 386.73 L136.89 387.16 L137.60 387.60 L138.30 388.05 L139.00 388.53 L139.70 389.02 L140.40 389.52 L141.10 390.04 L141.80 390.58 L142.50 391.13 L143.20 391.70 L143.90 392.28 L144.60 392.87 L145.30 393.48 L146.00 394.10 L146.70 394.73 L147.41 395.38 L148.12 396.04 L148.83 396.71 L149.53 397.40 L150.24 398.11 L150.95 398.82 L151.66 399.55 L152.37 400.29 L153.08 401.05 L153.79 401.82 L154.50 402.60 L155.21 403.40 L155.92 404.22 L156.63 405.06 L157.34 405.91 L158.05 406.78 L158.76 407.66 L159.47 408.54 L160.17 409.43 L160.88 410.33 L161.59 411.22 L162.30 412.11 L163.00 413.00 L163.70 413.88 L164.40 414.77 L165.10 415.66 L165.80 416.56 L166.50 417.45 L167.20 418.35 L167.90 419.25 L168.60 420.16 L169.30 421.06 L170.00 421.97 L170.70 422.88 L171.40 423.80 L172.10 424.72 L172.81 425.66 L173.52 426.60 L174.23 427.55 L174.93 428.50 L175.64 429.46 L176.35 430.41 L177.06 431.35 L177.77 432.28 L178.48 433.20 L179.19 434.11 L179.90 435.00 L180.61 435.88 L181.32 436.75 L182.03 437.62 L182.74 438.48 L183.45 439.33 L184.16 440.17 L184.87 441.00 L185.57 441.82 L186.28 442.62 L186.99 443.40 L187.70 444.16 L188.40 444.90 L189.10 445.62 L189.80 446.33 L190.50 447.02 L191.20 447.70 L191.90 448.36 L192.60 449.00 L193.30 449.63 L194.00 450.24 L194.70 450.83 L195.40 451.40 L196.10 451.96 L196.80 452.50 L197.50 453.02 L198.21 453.51 L198.92 453.99 L199.63 454.45 L200.33 454.89 L201.04 455.31 L201.75 455.72 L202.46 456.12 L203.17 456.50 L203.88 456.88 L204.59 457.24 L205.30 457.60 L206.01 457.95 L206.72 458.28 L207.43 458.60 L208.14 458.91 L208.85 459.21 L209.56 459.49 L210.27 459.77 L210.97 460.03 L211.68 460.29 L212.39 460.53 L213.10 460.77 L213.80 461.00 L214.49 461.22 L215.17 461.43 L215.84 461.63 L216.50 461.81 L217.16 461.99 L217.82 462.16 L218.50 462.32 L219.19 462.47 L219.90 462.62 L220.63 462.75 L221.40 462.88 L222.20 463.00 L223.03 463.11 L223.88 463.21 L224.76 463.29 L225.65 463.36 L226.56 463.43 L227.49 463.49 L228.45 463.55 L229.42 463.60 L230.41 463.65 L231.42 463.70 L232.45 463.75 L233.50 463.80 L233.08 463.86 L230.24 463.91 L225.79 463.97 L220.55 464.02 L215.33 464.07 L210.94 464.13 L208.20 464.17 L207.91 464.22 L210.90 464.26 L217.97 464.29 L229.93 464.32 L247.60 464.35 L273.07 464.37 L306.80 464.38 L347.11 464.39 L392.35 464.39 L440.86 464.39 L490.98 464.38 L541.05 464.38 L589.42 464.37 L634.41 464.36 L674.38 464.36 L707.67 464.35 L732.60 464.35" stroke="#000"/>
<path d="M122.20 382.30 L122.53 382.34 L122.93 382.38 L123.40 382.43 L123.93 382.47 L124.50 382.52 L125.12 382.59 L125.76 382.67 L126.43 382.76 L127.10 382.88 L127.78 383.02 L128.45 383.20 L129.10 383.40 L129.75 383.63 L130.43 383.89 L131.11 384.18 L131.82 384.49 L132.53 384.81 L133.26 385.16 L133.98 385.53 L134.71 385.91 L135.44 386.32 L136.17 386.73 L136.89 387.16 L137.60 387.60 L138.30 388.05 L139.00 388.53 L139.70 389.02 L140.40 389.52 L141.10 390.04 L141.80 390.58 L142.50 391.13 L143.20 391.70 L143.90 392.28 L144.60 392.87 L145.30 393.48 L146.00 394.10 L146.70 394.73 L147.41 395.38 L148.12 396.04 L148.83 396.71 L149.53 397.40 L150.24 398.11 L150.95 398.82 L151.66 399.55 L152.37 400.29 L153.08 401.05 L153.79 401.82 L154.50 402.60 L155.21 403.40 L155.92 404.22 L156.63 405.06 L157.34 405.91 L158.05 406.78 L158.76 407.66 L159.47 408.54 L160.17 409.43 L160.88 410.33 L161.59 411.22 L162.30 412.11 L163.00 413.00 L163.70 413.88 L164.40 414.77 L165.10 415.66 L165.80 416.56 L166.50 417.45 L167.20 418.35 L167.90 419.25 L168.60 420.16 L169.30 421.06 L170.00 421.97 L170.70 422.88 L171.40 423.80 L172.10 424.72 L172.81 425.66 L173.52 426.60 L174.23 427.55 L174.93 428.50 L175.64 429.46 L176.35 430.41 L177.06 431.35 L177.77 432.28 L178.48 433.20 L179.19 434.11 L179.90 435.00 L180.61 435.88 L181.32 436.75 L182.03 437.62 L182.74 438.48 L183.45 439.33 L184.16 440.17 L184.87 441.00 L185.57 441.82 L186.28 442.62 L186.99 443.40 L187.70 444.16 L188.40 444.90 L189.10 445.62 L189.80 446.33 L190.50 447.02 L191.20 447.70 L191.90 448.36 L192.60 449.00 L193.30 449.63 L194.00 450.24 L194.70 450.83 L195.40 451.40 L196.10 451.96 L196.80 452.50 L197.50 453.02 L198.21 453.51 L198.92 453.99 L199.63 454.45 L200.33 454.89 L201.04 455.31 L201.75 455.72 L202.46 456.12 L203.17 456.50 L203.88 456.88 L204.59 457.24 L205.30 457.60 L206.01 457.95 L206.72 458.28 L207.43 458.60 L208.14 458.91 L208.85 459.21 L209.56 459.49 L210.27 459.77 L210.97 460.03 L211.68 460.29 L212.39 460.53 L213.10 460.77 L213.80 461.00 L214.49 461.22 L215.17 461.43 L215.84 461.63 L216.50 461.81 L217.16 461.99 L217.82 462.16 L218.50 462.32 L219.19 462.47 L219.90 462.62 L220.63 462.75 L221.40 462.88 L222.20 463.00 L223.03 463.11 L223.88 463.21 L224.76 463.29 L225.65 463.36 L226.56 463.43 L227.49 463.49 L228.45 463.55 L229.42 463.60 L230.41 463.65 L231.42 463.70 L232.45 463.75 L233.50 463.80 L233.08 463.86 L230.24 463.91 L225.79 463.97 L220.55 464.02 L215.33 464.07 L210.94 464.13 L208.20 464.17 L207.91 464.22 L210.90 464.26 L217.97 464.29 L229.93 464.32 L247.60 464.35 L273.07 464.37 L306.80 464.38 L347.11 464.39 L392.35 464.39 L440.86 464.39 L490.98 464.38 L541.05 464.38 L589.42 464.37 L634.41 464.36 L674.38 464.36 L707.67 464.35 L732.60 464.35" stroke="#ff0000" stroke-dasharray="10.56 4"/>
<path d="M122.20 339.10 L122.53 339.25 L122.95 339.42 L123.44 339.62 L123.98 339.84 L124.58 340.08 L125.21 340.34 L125.86 340.63 L126.53 340.95 L127.20 341.30 L127.86 341.67 L128.50 342.07 L129.10 342.50 L129.68 342.96 L130.27 343.45 L130.86 343.98 L131.46 344.53 L132.05 345.10 L132.64 345.71 L133.24 346.33 L133.83 346.99 L134.43 347.66 L135.02 348.35 L135.61 349.07 L136.20 349.80 L136.79 350.56 L137.37 351.34 L137.95 352.15 L138.54 352.98 L139.12 353.84 L139.70 354.71 L140.28 355.61 L140.86 356.52 L141.45 357.45 L142.03 358.39 L142.61 359.34 L143.20 360.30 L143.79 361.28 L144.38 362.27 L144.97 363.29 L145.56 364.32 L146.16 365.36 L146.75 366.43 L147.34 367.50 L147.94 368.58 L148.53 369.67 L149.12 370.78 L149.71 371.89 L150.30 373.00 L150.89 374.12 L151.47 375.25 L152.05 376.39 L152.64 377.54 L153.22 378.70 L153.80 379.88 L154.38 381.05 L154.96 382.24 L155.55 383.44 L156.13 384.65 L156.71 385.87 L157.30 387.10 L157.89 388.34 L158.48 389.60 L159.07 390.88 L159.66 392.16 L160.26 393.46 L160.85 394.76 L161.44 396.07 L162.04 397.38 L162.63 398.69 L163.22 400.00 L163.81 401.30 L164.40 402.60 L164.99 403.90 L165.59 405.22 L166.19 406.54 L166.79 407.87 L167.39 409.20 L167.99 410.53 L168.58 411.84 L169.17 413.14 L169.74 414.42 L170.31 415.68 L170.86 416.91 L171.40 418.10 L171.92 419.27 L172.43 420.41 L172.92 421.54 L173.40 422.64 L173.87 423.73 L174.34 424.80 L174.80 425.85 L175.26 426.88 L175.71 427.89 L176.17 428.88 L176.63 429.85 L177.10 430.80 L177.57 431.73 L178.04 432.64 L178.50 433.52 L178.97 434.38 L179.44 435.22 L179.90 436.05 L180.36 436.86 L180.83 437.65 L181.30 438.43 L181.76 439.20 L182.23 439.95 L182.70 440.70 L183.17 441.44 L183.65 442.16 L184.12 442.87 L184.60 443.57 L185.07 444.25 L185.55 444.92 L186.03 445.57 L186.50 446.21 L186.98 446.83 L187.45 447.44 L187.93 448.03 L188.40 448.60 L188.87 449.15 L189.34 449.68 L189.80 450.20 L190.27 450.70 L190.74 451.18 L191.20 451.64 L191.66 452.10 L192.13 452.54 L192.60 452.97 L193.06 453.39 L193.53 453.80 L194.00 454.20 L194.47 454.59 L194.95 454.98 L195.42 455.35 L195.90 455.71 L196.37 456.06 L196.85 456.39 L197.33 456.72 L197.80 457.04 L198.28 457.34 L198.75 457.64 L199.23 457.92 L199.70 458.20 L200.17 458.46 L200.62 458.71 L201.07 458.94 L201.52 459.16 L201.96 459.37 L202.41 459.57 L202.87 459.77 L203.33 459.96 L203.80 460.15 L204.28 460.33 L204.78 460.51 L205.30 460.70 L205.83 460.89 L206.37 461.07 L206.91 461.26 L207.46 461.44 L208.02 461.61 L208.59 461.79 L209.17 461.96 L209.78 462.12 L210.40 462.27 L211.04 462.42 L211.71 462.57 L212.40 462.70 L213.12 462.82 L213.86 462.94 L214.62 463.05 L215.41 463.15 L216.22 463.25 L217.04 463.34 L217.87 463.43 L218.72 463.51 L219.58 463.58 L220.45 463.66 L221.32 463.73 L222.20 463.80 L221.54 463.87 L218.35 463.93 L213.49 463.99 L207.79 464.04 L202.10 464.10 L197.27 464.14 L194.13 464.19 L193.54 464.23 L196.34 464.26 L203.37 464.30 L215.47 464.33 L233.50 464.35 L259.60 464.37 L294.23 464.38 L335.67 464.39 L382.22 464.39 L432.15 464.39 L483.76 464.38 L535.32 464.38 L585.14 464.37 L631.49 464.36 L672.65 464.36 L706.93 464.35 L732.60 464.35" stroke="#0000ff" stroke-dasharray="10.4 4.085 2 4.085" stroke-dashoffset="-4.6"/>
</g>
<g stroke="#000" stroke-width="1.6" fill="none" stroke-linecap="butt">
<rect x="122.1" y="331.25" width="610.50" height="132.95" stroke-linejoin="round"/>
<path stroke-width="1.2" d="M198.41 464.2v-6.4M198.41 331.25v6.4M274.73 464.2v-12.8M274.73 331.25v12.8M351.04 464.2v-6.4M351.04 331.25v6.4M427.35 464.2v-12.8M427.35 331.25v12.8M503.66 464.2v-6.4M503.66 331.25v6.4M579.98 464.2v-12.8M579.98 331.25v12.8M656.29 464.2v-6.4M656.29 331.25v6.4M122.1 430.96h6.4M732.6 430.96h-6.4M122.1 397.73h12.8M732.6 397.73h-12.8M122.1 364.49h6.4M732.6 364.49h-6.4"/>
</g>
<g fill="#000">
<text transform="translate(116.5,154.20) scale(1,1.1)" text-anchor="end" font-size="27.1">0</text>
<text transform="translate(116.5,109.85) scale(1,1.1)" text-anchor="end" font-size="27.1">0.02</text>
<text transform="translate(116.5,65.50) scale(1,1.1)" text-anchor="end" font-size="27.1">0.04</text>
<text transform="translate(116.5,21.15) scale(1,1.1)" text-anchor="end" font-size="27.1">0.06</text>
<text transform="translate(116.5,314.00) scale(1,1.1)" text-anchor="end" font-size="27.1">0</text>
<text transform="translate(116.5,247.58) scale(1,1.1)" text-anchor="end" font-size="27.1">0.03</text>
<text transform="translate(116.5,181.15) scale(1,1.1)" text-anchor="end" font-size="27.1">0.06</text>
<text transform="translate(116.5,474.10) scale(1,1.1)" text-anchor="end" font-size="27.1">0</text>
<text transform="translate(116.5,407.62) scale(1,1.1)" text-anchor="end" font-size="27.1">0.003</text>
<text transform="translate(116.5,341.15) scale(1,1.1)" text-anchor="end" font-size="27.1">0.006</text>
<text transform="translate(122.5,489.8) scale(1,1.1)" text-anchor="middle" font-size="27.1">0</text>
<text transform="translate(275.1,489.8) scale(1,1.1)" text-anchor="middle" font-size="27.1">10</text>
<text transform="translate(427.8,489.8) scale(1,1.1)" text-anchor="middle" font-size="27.1">20</text>
<text transform="translate(580.4,489.8) scale(1,1.1)" text-anchor="middle" font-size="27.1">30</text>
<text transform="translate(733.0,489.8) scale(1,1.1)" text-anchor="middle" font-size="27.1">40</text>
<text transform="translate(427.4,511.3) scale(1.12,1)" text-anchor="middle" font-size="33.5" font-style="italic">r</text>
<text x="671.5" y="111.8" font-size="36">(a)</text>
<text x="671.7" y="291.8" font-size="36">(b)</text>
<text x="677.9" y="435.5" font-size="36">(c)</text>
<text transform="translate(48.2,124) rotate(-90)" font-size="37" word-spacing="1.2">Δ / <tspan font-style="italic">E</tspan><tspan font-style="italic" font-size="26" dy="14" dx="-1.4">F</tspan></text>
<text transform="translate(42.5,253.6) rotate(-90) scale(1.08,1.03)" font-size="37.5">ρ<tspan font-style="italic" font-size="26" dy="15" dx="0.5">f</tspan></text>
<text transform="translate(41.1,403.9) rotate(-90)" font-size="37" text-anchor="middle">ϕ</text>
<text transform="translate(19.3,381) rotate(-90)" font-size="26" text-anchor="middle">2</text>
<path d="M16.9 390.3H47.3M16.9 417.2H47.3" stroke="#000" stroke-width="2.3" fill="none"/>
</g>
</svg>
</body></html>
